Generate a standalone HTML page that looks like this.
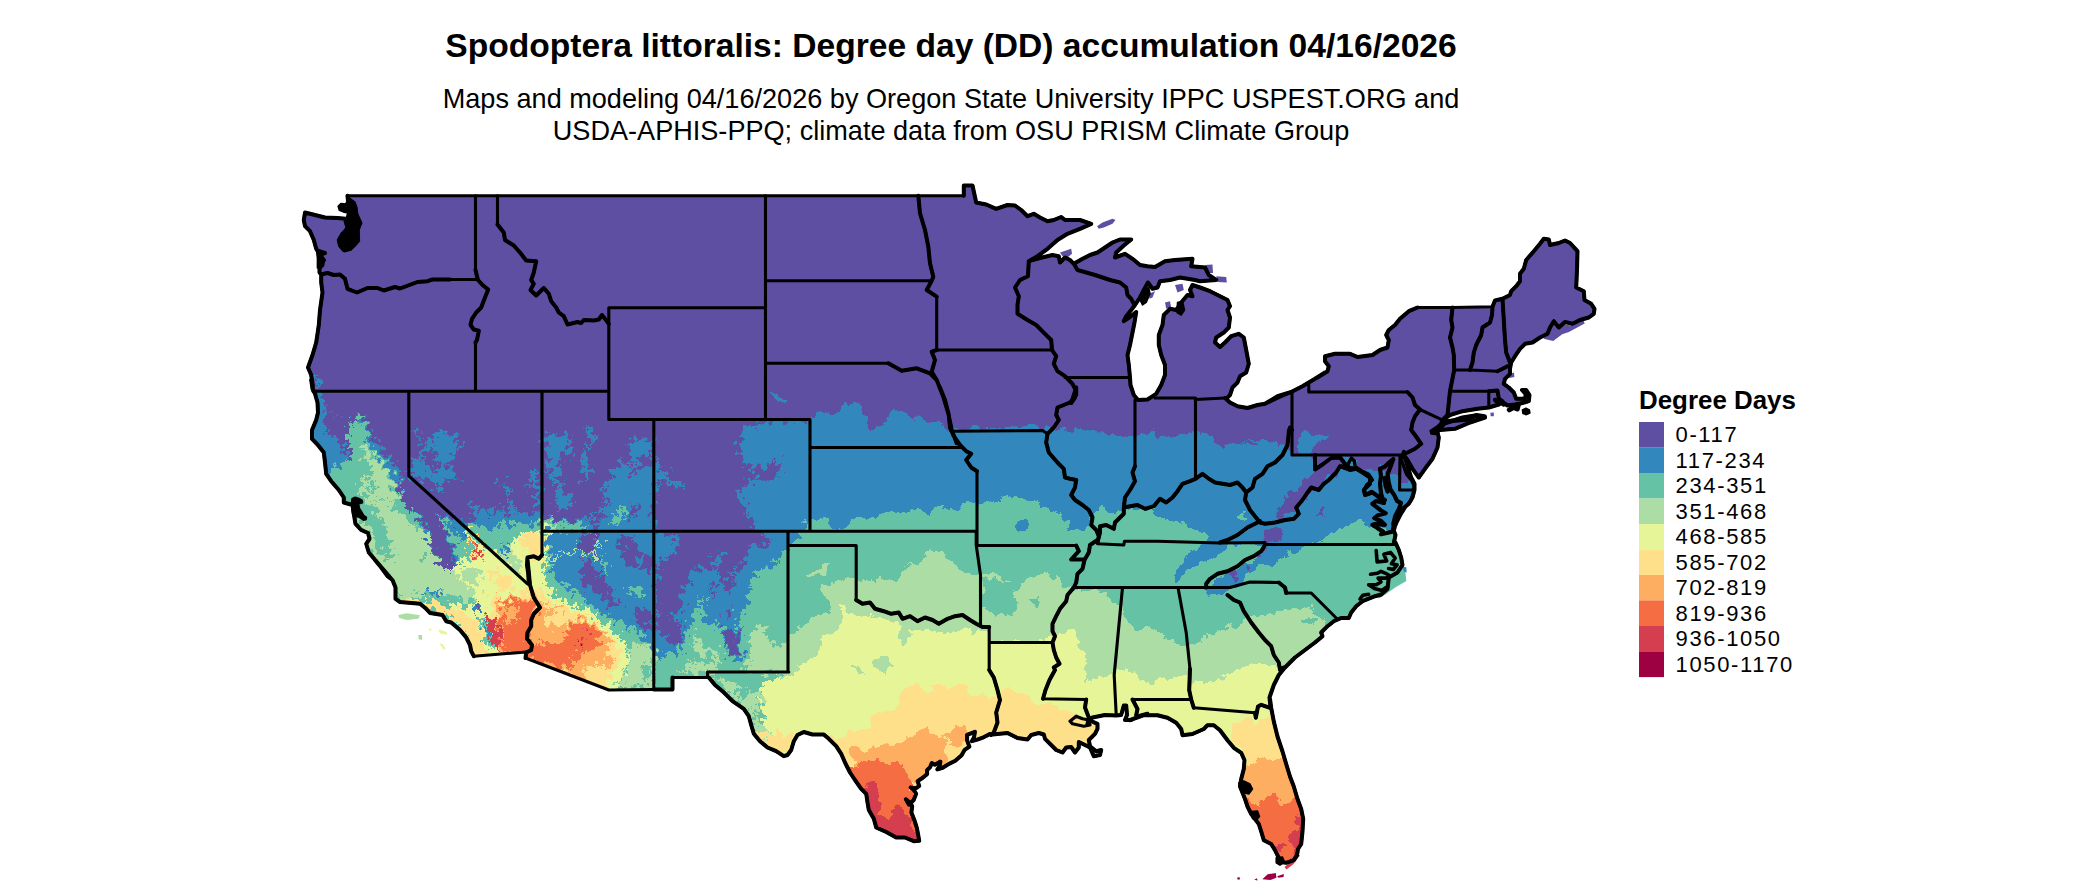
<!DOCTYPE html>
<html><head><meta charset="utf-8"><title>DD map</title>
<style>
html,body{margin:0;padding:0;background:#fff}
body{width:2100px;height:892px;position:relative;overflow:hidden;font-family:"Liberation Sans",sans-serif;color:#000}
.t{position:absolute;white-space:nowrap}
#title{left:0;width:1902px;text-align:center;top:28px;font-size:33.6px;font-weight:bold;line-height:36px}
#sub{left:0;width:1902px;text-align:center;top:83px;font-size:27.1px;line-height:32px}
#lt{left:1639px;top:385px;font-size:25.9px;font-weight:bold;line-height:30px}
.lab{left:1675.5px;font-size:22px;line-height:25.5px;letter-spacing:1.65px}
</style></head><body>
<svg width="2100" height="892" viewBox="0 0 2100 892" style="position:absolute;left:0;top:0">
<defs><clipPath id="us"><path d="M347.5,195.8 L963.8,195.8 L963.8,185.5 L972.5,185.5 L976.2,202.5 L986.2,204.5 L996.2,208.8 L1007.5,205.0 L1015.0,205.5 L1021.2,210.0 L1027.5,216.2 L1033.8,213.8 L1040.0,217.5 L1047.5,221.2 L1053.8,220.0 L1061.2,217.0 L1065.0,220.0 L1080.0,220.0 L1091.2,223.8 L1080.0,228.8 L1067.5,233.8 L1057.5,240.0 L1047.5,248.8 L1037.5,256.2 L1028.8,261.2 L1040.0,258.0 L1052.5,255.0 L1058.8,256.2 L1060.0,262.5 L1065.0,257.5 L1070.0,260.0 L1073.8,263.8 L1082.5,258.8 L1090.0,255.0 L1097.5,252.5 L1105.0,247.5 L1112.5,242.5 L1120.0,239.5 L1131.2,239.5 L1123.8,245.5 L1116.2,252.5 L1115.0,257.5 L1125.0,253.8 L1132.5,258.8 L1140.0,265.0 L1147.5,266.2 L1155.0,267.0 L1165.0,261.2 L1175.0,260.0 L1192.5,258.8 L1191.2,266.2 L1205.0,267.5 L1208.8,275.0 L1216.2,280.0 L1200.0,281.2 L1195.0,280.0 L1187.5,278.8 L1180.0,277.5 L1170.0,280.0 L1160.0,281.2 L1157.5,287.5 L1152.5,288.8 L1148.0,282.5 L1143.8,290.0 L1140.0,297.5 L1135.0,305.0 L1131.2,310.0 L1126.2,316.2 L1123.8,321.2 L1130.0,317.0 L1136.2,312.0 L1134.5,322.5 L1132.5,332.5 L1130.0,345.0 L1127.5,355.0 L1128.8,365.0 L1130.0,377.5 L1130.5,385.0 L1133.8,395.0 L1138.0,400.0 L1147.5,399.5 L1156.2,393.8 L1161.2,385.0 L1165.0,375.0 L1165.0,365.0 L1161.2,355.0 L1158.8,345.0 L1158.8,335.0 L1162.5,325.0 L1163.8,315.0 L1170.0,308.8 L1176.2,310.0 L1181.2,302.5 L1187.5,295.0 L1192.5,296.2 L1190.0,290.0 L1192.5,285.0 L1200.0,287.5 L1210.0,291.2 L1220.0,296.2 L1227.5,300.0 L1230.0,306.2 L1227.5,310.0 L1230.0,317.5 L1228.8,327.5 L1223.8,332.5 L1216.2,337.5 L1215.0,342.5 L1220.0,347.0 L1225.0,342.5 L1231.2,336.2 L1238.8,333.8 L1243.8,337.5 L1246.2,350.0 L1248.8,363.8 L1246.2,372.5 L1240.0,376.2 L1237.5,382.5 L1232.5,387.5 L1230.0,395.0 L1226.2,398.8 L1225.0,398.0 L1230.0,402.5 L1237.5,406.2 L1247.5,408.0 L1257.5,405.0 L1265.0,403.8 L1275.0,398.8 L1282.5,395.0 L1290.0,392.5 L1265.0,403.8 L1277.5,396.2 L1291.2,392.0 L1302.5,386.2 L1315.0,378.8 L1325.0,372.5 L1317.5,377.5 L1327.5,371.2 L1328.8,366.2 L1325.0,361.2 L1325.0,356.2 L1335.0,353.8 L1350.0,353.8 L1357.5,357.0 L1372.5,355.0 L1380.0,350.0 L1387.5,347.5 L1388.8,340.0 L1386.2,335.0 L1388.8,330.0 L1395.0,325.0 L1400.0,318.8 L1408.8,311.2 L1417.5,307.5 L1452.5,307.5 L1492.5,306.8 L1495.0,300.5 L1502.5,298.8 L1510.0,295.0 L1511.2,291.2 L1516.2,286.2 L1520.0,281.2 L1520.0,273.8 L1523.8,268.8 L1526.2,260.0 L1533.8,251.2 L1540.0,243.8 L1543.8,238.8 L1548.8,239.5 L1550.0,245.0 L1558.8,243.0 L1565.0,240.5 L1570.0,243.0 L1577.5,251.2 L1577.0,270.0 L1576.2,287.5 L1583.8,291.2 L1584.5,300.0 L1591.2,303.8 L1594.5,308.8 L1593.8,313.8 L1588.8,317.5 L1580.0,320.0 L1572.5,323.8 L1565.0,322.0 L1558.8,327.5 L1553.8,321.2 L1550.0,327.5 L1547.5,333.8 L1540.0,337.5 L1532.5,342.5 L1525.0,343.8 L1520.0,348.8 L1515.0,356.2 L1511.2,362.5 L1510.0,368.8 L1510.0,373.8 L1505.0,378.8 L1503.8,383.8 L1508.8,387.5 L1513.8,392.5 L1516.2,398.8 L1522.5,398.8 L1525.5,398.0 L1525.5,393.8 L1522.0,390.0 L1526.2,390.0 L1529.5,395.0 L1528.8,401.2 L1522.5,403.0 L1515.0,404.5 L1507.5,405.5 L1502.5,402.0 L1498.8,404.5 L1488.8,407.5 L1477.5,408.8 L1462.5,411.2 L1450.0,415.0 L1442.5,420.0 L1437.5,432.5 L1438.8,437.5 L1437.5,447.5 L1432.5,458.8 L1425.0,468.8 L1418.8,477.5 L1412.5,468.8 L1407.5,460.0 L1403.8,455.0 L1406.2,461.2 L1408.8,470.0 L1411.2,477.5 L1414.5,483.8 L1414.5,490.0 L1412.5,497.5 L1408.8,503.8 L1402.5,508.8 L1396.2,517.5 L1393.0,528.8 L1395.5,535.0 L1393.8,543.0 L1395.5,542.5 L1398.8,550.0 L1401.2,557.5 L1402.5,565.0 L1397.5,572.5 L1388.8,577.5 L1387.5,588.8 L1381.2,594.5 L1375.0,596.2 L1362.5,601.2 L1356.2,606.2 L1351.2,612.5 L1348.8,618.0 L1341.2,618.0 L1333.8,621.2 L1327.5,626.2 L1321.2,632.5 L1322.5,636.2 L1315.0,642.5 L1305.0,650.0 L1295.0,657.5 L1285.0,667.5 L1278.8,675.0 L1273.8,685.0 L1269.5,697.5 L1270.5,707.5 L1270.0,699.0 L1271.2,707.8 L1273.8,721.5 L1277.5,736.5 L1282.5,751.5 L1286.2,764.0 L1290.0,776.5 L1293.8,786.5 L1297.5,799.0 L1301.2,809.0 L1303.2,819.0 L1302.5,831.5 L1301.2,844.0 L1298.0,849.0 L1297.0,855.2 L1293.8,860.2 L1286.2,862.8 L1280.0,862.0 L1278.8,857.8 L1275.0,850.2 L1271.2,844.0 L1263.8,840.2 L1261.2,831.5 L1258.8,824.0 L1251.2,814.0 L1247.5,806.5 L1245.0,799.0 L1240.0,786.5 L1241.2,779.0 L1243.8,769.0 L1244.5,760.2 L1241.2,752.8 L1233.8,747.8 L1227.5,740.2 L1220.0,730.2 L1213.8,725.2 L1207.5,725.2 L1203.8,729.0 L1192.5,734.0 L1182.5,735.2 L1181.2,729.0 L1176.2,722.8 L1167.5,717.8 L1157.5,715.2 L1142.5,715.2 L1130.0,720.2 L1147.5,713.8 L1140.0,715.8 L1131.2,720.0 L1125.0,720.0 L1127.0,715.0 L1126.2,705.5 L1123.8,705.5 L1121.2,715.0 L1116.2,715.5 L1105.0,715.0 L1092.5,717.5 L1088.8,720.0 L1097.5,723.8 L1097.5,728.8 L1095.0,733.8 L1088.8,740.0 L1090.0,746.2 L1096.2,751.2 L1101.2,750.0 L1100.0,755.0 L1093.8,756.2 L1090.0,747.5 L1085.0,745.0 L1078.8,742.0 L1078.8,747.5 L1075.0,752.5 L1071.2,747.0 L1066.2,747.5 L1062.5,752.5 L1056.2,750.0 L1051.2,745.0 L1045.0,738.8 L1043.8,734.5 L1038.8,733.0 L1031.2,735.0 L1027.5,739.5 L1017.5,738.0 L1007.5,733.0 L992.5,734.5 L989.8,734.1 L983.5,737.3 L977.3,739.6 L971.8,741.2 L974.1,737.3 L974.9,731.8 L967.1,734.9 L967.1,740.4 L969.4,746.7 L964.7,749.8 L961.6,755.3 L955.3,760.8 L949.0,763.9 L942.7,767.8 L937.3,769.4 L939.6,766.3 L940.4,761.6 L934.9,764.7 L931.8,763.1 L930.2,767.1 L927.1,770.2 L927.1,774.1 L922.4,778.0 L917.6,781.2 L919.2,785.9 L916.1,788.2 L910.6,787.5 L913.7,789.8 L916.1,793.7 L913.7,800.0 L909.0,804.7 L905.9,799.2 L910.6,803.1 L912.2,806.3 L911.4,812.5 L914.5,820.4 L916.9,828.2 L918.4,836.1 L919.2,840.8 L913.8,841.2 L905.0,837.5 L896.2,837.5 L886.2,832.0 L876.2,827.5 L873.8,818.8 L868.8,810.0 L867.5,802.5 L866.2,793.8 L861.2,788.8 L855.0,780.0 L850.0,772.5 L845.0,762.5 L841.2,753.8 L836.2,746.2 L828.8,738.8 L823.8,734.5 L812.5,734.5 L803.8,732.0 L797.5,735.0 L793.8,741.2 L791.2,750.0 L787.5,755.0 L783.8,756.2 L776.2,751.2 L767.5,747.5 L760.0,741.2 L753.8,733.8 L751.2,725.0 L748.8,716.2 L743.8,708.8 L732.5,701.2 L722.5,691.2 L715.0,685.0 L708.8,677.5 L672.5,677.5 L672.5,689.5 L653.8,689.5 L608.8,690.0 L525.5,658.0 L526.2,652.0 L473.8,656.2 L471.2,651.2 L470.0,645.0 L466.2,637.5 L460.0,630.0 L451.2,622.5 L446.2,621.2 L442.5,615.0 L430.0,613.0 L426.2,608.8 L420.0,603.8 L400.0,602.0 L395.5,598.8 L395.5,587.5 L392.5,580.0 L387.5,576.2 L381.2,567.5 L375.0,560.0 L391.2,578.8 L383.8,570.0 L376.2,561.2 L368.8,552.5 L366.2,543.8 L369.5,538.8 L368.0,533.0 L361.2,530.0 L355.5,523.8 L353.8,513.8 L352.5,505.0 L343.8,502.5 L343.8,497.5 L338.8,490.0 L331.2,481.2 L326.2,473.8 L325.0,462.5 L323.8,452.5 L317.5,444.5 L312.0,438.8 L312.0,430.0 L316.2,420.0 L318.0,412.5 L317.5,402.5 L315.0,393.8 L312.5,388.8 L311.2,380.0 L313.0,387.5 L311.2,375.0 L308.0,367.5 L312.5,355.0 L316.2,342.5 L318.8,325.0 L320.0,310.0 L322.5,292.5 L321.2,282.5 L321.2,274.5 L319.5,272.5 L319.5,263.8 L323.8,260.5 L319.5,260.0 L318.8,255.0 L325.0,253.0 L318.8,253.0 L316.2,248.8 L313.8,240.0 L310.0,231.2 L305.0,226.2 L303.8,220.0 L305.0,212.5 L315.0,215.0 L325.0,217.5 L337.5,218.0 L345.5,218.8 L346.2,223.8 L348.8,228.8 L342.5,233.8 L338.8,240.0 L340.0,245.5 L343.8,250.0 L348.8,248.8 L353.8,245.0 L357.5,240.0 L357.5,230.0 L360.0,222.5 L355.5,215.0 L355.5,207.5 L353.8,203.0 L348.0,201.2 L347.5,195.8Z"/></clipPath></defs>
<defs><filter id="rag" filterUnits="userSpaceOnUse" x="250" y="150" width="1420" height="760" color-interpolation-filters="sRGB"><feTurbulence type="fractalNoise" baseFrequency="0.09" numOctaves="3" seed="7" result="n"/><feDisplacementMap in="SourceGraphic" in2="n" scale="14" xChannelSelector="R" yChannelSelector="G"/></filter>
<filter id="rag2" filterUnits="userSpaceOnUse" x="250" y="150" width="600" height="760" color-interpolation-filters="sRGB"><feTurbulence type="fractalNoise" baseFrequency="0.16" numOctaves="4" seed="11" result="n"/><feDisplacementMap in="SourceGraphic" in2="n" scale="22" xChannelSelector="R" yChannelSelector="G"/></filter>
<clipPath id="cw"><path d="M250,150 L765.5,150 L765.5,419.5 L810,419.5 L810,531.2 L788,531.2 L788,900 L250,900Z"/></clipPath><clipPath id="ce"><path d="M765.5,150 L1700,150 L1700,900 L788,900 L788,531.2 L810,531.2 L810,419.5 L765.5,419.5Z"/></clipPath>
<g id="bands" shape-rendering="crispEdges">
<rect x="200" y="100" width="1540" height="900" fill="#5E4FA2"/>
<path d="M311.2,385.0 L320.0,395.0 L327.5,407.5 L333.8,415.0 L343.8,422.5 L350.0,417.5 L365.0,417.5 L370.0,430.0 L376.2,442.5 L385.0,455.0 L393.8,462.5 L398.8,475.0 L403.8,487.5 L410.0,496.2 L408.8,480.0 L412.5,462.5 L420.0,442.5 L430.0,455.0 L437.5,440.0 L447.5,430.0 L452.5,445.0 L462.5,442.5 L455.0,455.0 L450.0,467.5 L452.5,480.0 L462.5,487.5 L470.0,497.5 L480.0,505.0 L490.0,495.0 L497.5,487.5 L505.0,480.0 L510.0,490.0 L515.0,495.0 L522.5,490.0 L530.0,480.0 L533.8,465.0 L540.0,485.0 L542.0,515.0 L555.0,520.0 L570.0,522.5 L585.0,520.0 L597.5,510.0 L605.0,500.0 L602.5,487.5 L610.0,480.0 L617.5,465.0 L625.0,462.5 L635.0,475.0 L640.0,472.5 L630.0,457.5 L637.5,450.0 L645.0,440.0 L651.2,437.5 L655.0,465.0 L665.0,472.5 L675.0,482.5 L685.0,480.0 L680.0,487.5 L670.0,485.0 L660.0,477.5 L657.5,490.0 L660.0,505.0 L667.5,517.5 L680.0,530.0 L690.0,533.8 L712.5,532.5 L737.5,533.8 L755.0,530.0 L753.8,527.5 L750.0,517.5 L745.0,510.0 L742.5,500.0 L735.0,490.0 L747.5,486.2 L747.5,477.5 L755.0,478.8 L765.0,480.0 L775.0,475.0 L781.2,470.0 L777.5,460.0 L770.0,465.0 L758.8,470.0 L755.0,466.2 L745.0,467.5 L740.0,455.0 L738.0,442.5 L741.2,428.8 L755.0,426.2 L772.5,422.5 L790.0,421.2 L805.0,420.5 L812.5,413.8 L820.0,412.5 L830.0,415.0 L840.0,410.0 L843.8,403.8 L852.5,402.5 L860.0,406.2 L865.0,415.0 L872.5,427.5 L880.0,428.8 L890.0,420.0 L892.5,413.8 L900.0,411.2 L908.8,417.5 L915.0,418.8 L935.0,422.5 L946.2,425.0 L947.5,435.0 L940.0,420.0 L947.5,428.8 L951.2,430.0 L965.0,428.8 L985.0,427.5 L1012.5,426.2 L1025.0,424.5 L1040.0,427.5 L1050.0,428.8 L1057.5,432.0 L1070.0,431.2 L1087.5,428.8 L1100.0,432.5 L1115.0,437.5 L1130.0,438.8 L1140.0,436.2 L1152.5,431.2 L1165.0,438.8 L1180.0,436.2 L1195.0,431.2 L1205.0,433.8 L1215.0,442.5 L1223.8,448.8 L1232.5,442.5 L1247.5,441.2 L1262.5,438.8 L1277.5,445.0 L1240.0,441.2 L1250.0,447.5 L1262.5,442.5 L1275.0,442.5 L1285.0,445.0 L1288.8,452.5 L1296.2,452.5 L1298.8,437.5 L1305.0,432.5 L1315.0,435.0 L1325.0,436.2 L1320.0,442.5 L1312.5,450.0 L1308.8,456.2 L1353.8,456.2 L1357.5,467.5 L1365.0,472.5 L1375.0,470.0 L1382.5,468.8 L1390.0,472.5 L1395.0,477.5 L1402.5,480.0 L1412.5,482.5 L1420.0,486.2 L1700.0,486.0 L1700.0,900.0 L250.0,900.0 L250.0,385.0Z" fill="#3288BD"/>
<path d="M365.0,417.5 L370.0,430.0 L376.2,442.5 L385.0,455.0 L393.8,462.5 L398.8,475.0 L403.8,487.5 L411.2,497.5 L420.0,505.0 L426.2,517.5 L432.5,530.0 L437.5,540.0 L440.0,555.0 L443.8,565.0 L448.8,571.2 L453.8,566.2 L452.5,552.5 L447.5,540.0 L443.0,527.5 L440.0,516.2 L433.8,505.0 L426.2,495.0 L417.5,485.0 L409.5,476.2 L408.5,417.5Z" fill="#5E4FA2"/>
<path d="M480.0,505.0 L487.5,515.0 L492.5,505.0 L497.5,497.5 L502.5,490.0 L497.5,487.5 L490.0,495.0Z" fill="#5E4FA2"/>
<path d="M510.0,490.0 L512.5,505.0 L517.5,512.5 L522.5,505.0 L525.0,492.5 L522.5,490.0 L515.0,495.0Z" fill="#5E4FA2"/>
<path d="M597.5,510.0 L590.0,525.0 L582.5,535.0 L585.0,550.0 L592.5,560.0 L597.5,555.0 L595.0,542.5 L600.0,530.0 L607.5,522.5 L615.0,530.0 L622.5,525.0 L620.0,515.0 L612.5,505.0 L605.0,500.0Z" fill="#5E4FA2"/>
<path d="M617.5,540.0 L625.0,535.0 L635.0,540.0 L640.0,552.5 L635.0,562.5 L625.0,560.0 L620.0,552.5Z" fill="#5E4FA2"/>
<path d="M657.5,490.0 L660.0,505.0 L667.5,517.5 L680.0,530.0 L690.0,533.8 L712.5,532.5 L737.5,533.8 L755.0,530.0 L765.0,536.2 L770.0,542.5 L762.5,546.2 L757.5,540.0 L747.5,545.0 L747.5,557.5 L742.5,565.0 L737.5,572.5 L730.0,570.0 L727.5,577.5 L732.5,585.0 L730.0,592.5 L725.0,590.0 L722.5,580.0 L717.5,572.5 L720.0,562.5 L722.5,551.2 L712.5,552.5 L710.0,562.5 L702.5,567.5 L692.5,570.0 L690.0,580.0 L695.0,582.5 L680.0,585.0 L677.5,595.0 L671.2,600.0 L680.0,607.5 L670.0,612.5 L662.5,607.5 L660.0,600.0 L657.5,590.0 L662.5,580.0 L657.5,572.5 L662.5,562.5 L675.0,550.0 L680.0,537.5 L667.5,535.0 L657.5,530.0 L655.0,520.0 L645.0,515.0 L635.0,510.0 L630.0,507.5 L630.0,495.0 L640.0,492.5 L650.0,487.5Z" fill="#5E4FA2"/>
<path d="M680.0,533.8 L755.0,533.8 L765.0,537.5 L770.0,542.5 L762.5,546.2 L755.0,542.5 L747.5,547.5 L745.0,560.0 L737.5,565.0 L730.0,572.5 L722.5,570.0 L723.8,555.0 L717.5,551.2 L712.5,553.8 L715.0,565.0 L710.0,571.2 L700.0,567.5 L692.5,571.2 L690.0,577.5 L680.0,582.5 L681.2,597.5 L685.0,605.0 L680.0,612.5 L670.0,617.5 L680.0,622.5 L682.5,635.0 L677.5,647.5 L670.0,645.0 L666.2,637.5 L660.0,635.0 L656.2,625.0 L656.2,585.0 L660.0,572.5 L657.5,557.5 L667.5,560.0 L676.2,557.5 L677.5,545.0Z" fill="#5E4FA2"/>
<path d="M725.0,577.5 L732.5,575.0 L735.0,585.0 L730.0,592.5 L726.2,587.5Z" fill="#5E4FA2"/>
<path d="M710.0,582.5 L715.0,580.0 L716.2,595.0 L712.5,600.0Z" fill="#5E4FA2"/>
<path d="M723.8,607.5 L731.2,607.5 L731.2,612.5 L725.0,613.8Z" fill="#5E4FA2"/>
<path d="M578.8,537.5 L587.5,537.5 L590.0,550.0 L583.8,552.5 L578.8,545.0Z" fill="#5E4FA2"/>
<path d="M617.5,535.0 L625.0,537.5 L630.0,547.5 L640.0,552.5 L635.0,565.0 L630.0,567.5 L628.8,557.5 L622.5,555.0 L618.8,545.0Z" fill="#5E4FA2"/>
<path d="M642.5,557.5 L652.5,555.0 L652.5,577.5 L645.0,575.0 L641.2,567.5Z" fill="#5E4FA2"/>
<path d="M583.8,560.0 L592.5,565.0 L600.0,575.0 L605.0,585.0 L615.0,597.5 L622.5,602.5 L617.5,607.5 L607.5,605.0 L600.0,597.5 L592.5,590.0 L585.0,585.0 L581.2,577.5 L583.8,567.5Z" fill="#5E4FA2"/>
<path d="M635.0,607.5 L645.0,610.0 L652.5,612.5 L652.5,627.5 L645.0,630.0 L637.5,622.5 L632.5,615.0Z" fill="#5E4FA2"/>
<path d="M1312.5,456.2 L1345.0,456.2 L1346.2,465.0 L1337.5,471.2 L1327.5,480.0 L1317.5,488.8 L1308.8,496.2 L1298.8,503.8 L1290.0,511.2 L1282.5,518.0 L1277.5,516.2 L1282.5,506.2 L1288.8,496.2 L1298.8,487.5 L1307.5,480.0 L1313.8,470.0Z" fill="#5E4FA2"/>
<path d="M1323.8,503.8 L1327.5,506.2 L1320.0,516.2 L1315.0,517.5 L1317.5,510.0Z" fill="#5E4FA2"/>
<path d="M1282.5,506.2 L1290.0,501.2 L1300.0,500.0 L1297.5,507.5 L1290.0,515.0 L1280.0,516.2 L1276.2,512.5Z" fill="#5E4FA2"/>
<path d="M1262.5,532.5 L1272.5,527.5 L1282.5,527.5 L1280.0,536.2 L1272.5,541.2 L1265.0,551.2 L1258.8,560.0 L1257.0,556.2 L1261.2,546.2 L1265.0,540.0Z" fill="#5E4FA2"/>
<path d="M1248.8,563.8 L1253.8,566.2 L1250.0,571.2 L1246.2,568.8Z" fill="#5E4FA2"/>
<path d="M1232.5,572.5 L1238.8,573.8 L1236.2,580.0 L1231.2,577.5Z" fill="#5E4FA2"/>
<path d="M412.5,430.0 L418.8,433.8 L423.8,445.0 L430.0,440.0 L436.2,438.8 L443.8,430.0 L448.8,428.8 L452.5,436.2 L455.0,443.8 L463.8,441.2 L456.2,453.8 L450.0,466.2 L452.5,478.8 L445.0,482.5 L435.0,480.0 L430.0,470.0 L420.0,465.0 L413.8,467.5 L417.5,455.0 L421.2,447.5 L415.0,442.5Z" fill="#3288BD"/>
<path d="M545.0,437.5 L555.0,433.8 L565.0,433.8 L572.5,445.0 L570.0,455.0 L582.5,453.8 L588.8,462.5 L590.0,475.0 L582.5,485.0 L572.5,482.5 L567.5,490.0 L572.5,502.5 L565.0,510.0 L555.0,505.0 L550.0,497.5 L552.5,485.0 L545.0,480.0 L550.0,467.5 L546.2,455.0Z" fill="#3288BD"/>
<path d="M586.2,426.2 L591.2,428.8 L596.2,442.5 L590.0,450.0 L587.5,440.0Z" fill="#3288BD"/>
<path d="M630.0,437.5 L640.0,437.5 L651.2,440.0 L651.2,450.0 L640.0,453.8 L630.0,457.5Z" fill="#3288BD"/>
<path d="M313.8,375.0 L320.0,376.2 L319.5,388.8 L315.0,388.8Z" fill="#3288BD"/>
<path d="M770.0,392.5 L780.0,395.0 L787.5,402.5 L782.5,405.0 L775.0,401.2Z" fill="#3288BD"/>
<path d="M327.5,473.8 L332.5,470.0 L343.8,465.0 L347.5,455.0 L343.8,442.5 L345.0,430.0 L350.0,420.0 L360.0,417.5 L365.0,425.0 L367.5,440.0 L375.0,452.5 L385.0,462.5 L392.5,475.0 L400.0,490.0 L407.5,505.0 L417.5,520.0 L425.0,535.0 L432.5,550.0 L437.5,565.0 L445.0,577.5 L455.0,580.0 L462.5,570.0 L457.5,560.0 L452.5,545.0 L445.0,530.0 L440.0,516.2 L443.8,520.0 L452.5,530.0 L462.5,542.5 L465.0,527.5 L470.0,522.5 L480.0,525.0 L490.0,530.0 L502.5,525.0 L515.0,522.5 L530.0,525.0 L542.0,522.5 L547.5,530.0 L545.0,537.5 L550.0,550.0 L547.5,560.0 L552.5,572.5 L560.0,582.5 L567.5,587.5 L575.0,595.0 L585.0,600.0 L595.0,607.5 L605.0,615.0 L615.0,620.0 L627.5,625.0 L637.5,632.5 L647.5,640.0 L653.8,643.8 L656.2,660.0 L665.0,660.0 L666.2,652.5 L680.0,652.5 L682.5,647.5 L685.0,635.0 L690.0,625.0 L695.0,612.5 L700.0,602.5 L702.5,595.0 L705.0,595.0 L702.5,610.0 L705.0,620.0 L712.5,625.0 L717.5,622.5 L722.5,630.0 L725.0,650.0 L730.0,657.5 L741.2,660.0 L742.5,650.0 L740.0,640.0 L738.8,625.0 L737.5,615.0 L742.5,610.0 L747.5,605.0 L747.5,590.0 L750.0,582.5 L755.0,575.0 L760.0,570.0 L767.5,567.5 L775.0,560.0 L782.5,560.0 L788.0,550.0 L788.0,545.0 L796.2,543.8 L797.5,532.5 L805.0,529.5 L810.0,517.5 L817.5,516.2 L825.0,521.2 L832.5,529.5 L845.0,529.5 L847.5,525.0 L855.0,517.5 L867.5,516.2 L877.5,513.8 L887.5,512.5 L895.0,515.0 L905.0,515.0 L912.5,508.8 L922.5,510.0 L930.0,511.2 L937.5,507.5 L945.0,510.0 L952.5,508.8 L960.0,510.0 L967.5,502.5 L976.2,500.0 L977.0,505.0 L985.0,503.8 L997.5,500.0 L1007.5,497.5 L1017.5,496.2 L1027.5,498.8 L1037.5,502.5 L1045.0,507.5 L1052.5,510.0 L1062.5,516.2 L1070.0,522.5 L1067.5,532.5 L1077.5,527.5 L1087.5,525.0 L1092.5,520.0 L1095.0,512.5 L1102.5,503.8 L1107.5,505.0 L1110.0,512.5 L1115.0,516.2 L1120.0,512.5 L1125.0,510.0 L1137.5,508.8 L1152.5,508.8 L1157.5,515.0 L1165.0,520.0 L1175.0,520.0 L1185.0,525.0 L1195.0,530.0 L1205.0,532.5 L1212.5,537.5 L1212.3,541.0 L1200.0,546.7 L1190.0,551.7 L1183.3,560.0 L1176.7,571.7 L1171.7,581.7 L1174.3,582.7 L1180.0,578.3 L1188.3,571.7 L1196.7,565.0 L1206.7,558.3 L1216.7,555.0 L1226.7,550.0 L1230.7,543.3 L1268.3,544.0 L1260.0,553.3 L1250.0,560.0 L1240.0,566.7 L1230.0,573.3 L1220.0,578.3 L1210.0,585.0 L1203.3,591.7 L1210.0,596.7 L1223.3,593.3 L1230.0,588.3 L1240.0,583.3 L1250.0,573.3 L1260.0,566.7 L1270.0,563.3 L1280.0,560.0 L1290.0,553.3 L1300.0,550.0 L1310.0,543.3 L1323.3,540.0 L1333.3,535.0 L1343.3,530.0 L1322.5,542.5 L1330.0,535.0 L1340.0,527.5 L1350.0,525.0 L1360.0,520.0 L1370.0,525.0 L1380.0,530.0 L1390.0,532.5 L1400.0,530.0 L1700.0,530.0 L1700.0,900.0 L250.0,900.0 L250.0,470.0Z" fill="#66C2A5"/>
<path d="M722.5,622.5 L730.0,620.0 L738.8,630.0 L741.2,650.0 L736.2,658.8 L727.5,656.2 L723.8,642.5Z" fill="#3288BD"/>
<path d="M725.0,630.0 L730.0,627.5 L737.5,635.0 L738.8,650.0 L733.8,655.0 L727.5,652.5 L726.2,642.5Z" fill="#5E4FA2"/>
<path d="M1237.5,513.8 L1243.8,511.2 L1248.8,516.2 L1242.5,520.0Z" fill="#66C2A5"/>
<path d="M1013.8,526.2 L1020.0,521.2 L1027.5,517.5 L1031.2,525.0 L1026.2,530.0 L1017.5,530.0Z" fill="#3288BD"/>
<path d="M1288.3,495.0 L1298.3,488.3 L1306.7,480.0 L1313.3,483.3 L1303.3,496.7 L1293.3,503.3 L1283.3,508.3Z" fill="#5E4FA2"/>
<path d="M1268.3,530.0 L1276.7,526.7 L1283.3,531.7 L1276.7,540.0 L1270.0,541.7 L1263.3,538.3Z" fill="#5E4FA2"/>
<path d="M762.5,735.0 L757.5,720.0 L761.2,700.0 L762.5,685.0 L767.5,680.0 L782.5,677.5 L788.8,635.0 L800.0,630.0 L810.0,620.0 L820.0,616.2 L830.0,613.8 L832.5,607.5 L825.0,597.5 L818.8,590.0 L822.5,585.0 L835.0,582.5 L845.0,577.5 L855.0,577.5 L860.0,582.5 L870.0,580.0 L877.5,577.5 L885.0,578.8 L900.0,577.5 L907.5,570.0 L912.5,562.5 L902.5,567.5 L912.5,561.2 L925.0,560.0 L930.0,547.5 L940.0,550.0 L950.0,560.0 L957.5,565.0 L965.0,570.0 L972.5,572.5 L978.8,573.8 L982.5,577.5 L990.0,573.8 L1000.0,576.2 L1010.0,582.5 L1015.0,592.5 L1020.0,585.0 L1030.0,578.8 L1040.0,573.8 L1047.5,571.2 L1052.5,576.2 L1060.0,582.5 L1067.5,588.8 L1073.8,588.8 L1090.0,590.0 L1105.0,591.2 L1107.5,597.5 L1115.0,602.5 L1122.5,607.5 L1125.0,620.0 L1130.0,625.0 L1140.0,627.5 L1147.5,630.0 L1155.0,627.5 L1165.0,637.5 L1172.5,642.5 L1180.0,645.0 L1190.0,645.0 L1190.0,645.0 L1200.0,642.5 L1210.0,635.0 L1222.5,630.0 L1232.5,625.0 L1242.5,620.0 L1252.5,617.5 L1262.5,617.5 L1272.5,612.5 L1285.0,610.0 L1297.5,608.8 L1307.5,607.5 L1315.0,612.5 L1320.0,617.5 L1325.0,625.0 L1330.0,630.0 L1700.0,640.0 L1700.0,900.0 L250.0,900.0 L250.0,700.0Z" fill="#ABDDA4"/>
<path d="M750.0,640.0 L760.0,622.5 L765.0,632.5 L777.5,647.5 L788.0,640.0 L788.0,672.0 L742.5,672.0 L747.5,660.0 L750.0,650.0Z" fill="#ABDDA4"/>
<path d="M695.0,632.5 L692.5,642.5 L697.5,652.5 L705.0,657.5 L715.0,655.0 L717.5,660.0 L710.0,665.0 L702.5,662.5 L690.0,662.5 L682.5,667.5 L682.5,672.5 L705.0,672.5 L710.0,675.0 L720.0,665.0 L722.5,657.5 L715.0,650.0 L705.0,647.5 L700.0,640.0Z" fill="#ABDDA4"/>
<path d="M710.0,673.8 L725.0,680.0 L737.5,685.0 L750.0,690.0 L761.2,690.0 L762.5,735.0 L757.5,740.0 L750.0,720.0 L737.5,702.5 L725.0,690.0 L715.0,680.0Z" fill="#ABDDA4"/>
<path d="M753.8,707.5 L762.5,705.0 L770.0,712.5 L772.5,722.5 L762.5,725.0 L755.0,717.5Z" fill="#66C2A5"/>
<path d="M737.5,685.0 L746.2,685.0 L746.2,700.0 L740.0,702.5Z" fill="#66C2A5"/>
<path d="M805.0,572.5 L815.0,571.2 L825.0,565.0 L830.0,566.2 L825.0,572.5 L815.0,577.5 L807.5,576.2Z" fill="#ABDDA4"/>
<path d="M983.8,580.0 L995.0,576.2 L1005.0,580.0 L1012.5,587.5 L1015.0,595.0 L1020.0,602.5 L1015.0,615.0 L1010.0,618.8 L1002.5,612.5 L995.0,616.2 L987.5,610.0 L982.5,605.0Z" fill="#66C2A5"/>
<path d="M1030.0,597.5 L1037.5,598.8 L1040.0,606.2 L1032.5,607.5Z" fill="#66C2A5"/>
<path d="M1302.5,617.5 L1312.5,615.5 L1318.0,621.2 L1312.5,626.2 L1303.8,624.5Z" fill="#66C2A5"/>
<path d="M1202.5,620.0 L1208.8,619.5 L1211.2,626.2 L1205.0,630.0 L1201.2,625.0Z" fill="#66C2A5"/>
<path d="M775.0,745.0 L762.5,720.0 L761.2,700.0 L762.5,685.0 L767.5,680.0 L782.5,677.5 L795.0,672.5 L800.0,665.0 L807.5,660.0 L817.5,657.5 L820.0,647.5 L825.0,637.5 L835.0,632.5 L840.0,627.5 L842.5,617.5 L840.0,610.0 L836.2,605.0 L840.0,602.5 L847.5,610.0 L855.0,613.8 L865.0,615.0 L875.0,617.5 L887.5,620.0 L897.5,622.5 L900.0,630.0 L907.5,628.8 L915.0,627.5 L925.0,630.0 L935.0,632.5 L945.0,633.8 L955.0,630.0 L965.0,630.0 L975.0,631.2 L985.0,631.2 L990.0,632.5 L991.2,641.2 L992.5,637.5 L1015.0,641.2 L1032.5,639.5 L1052.5,637.5 L1060.0,635.0 L1070.0,631.2 L1076.2,632.5 L1078.8,645.0 L1083.8,652.5 L1086.2,665.0 L1083.8,675.0 L1086.2,680.0 L1100.0,676.2 L1112.5,676.2 L1115.0,670.0 L1127.5,670.0 L1137.5,675.0 L1147.5,682.5 L1162.5,680.0 L1175.0,676.2 L1190.0,673.8 L1190.0,686.2 L1205.0,680.0 L1220.0,678.8 L1235.0,675.0 L1245.0,666.2 L1255.0,662.5 L1272.5,665.0 L1282.5,668.8 L1700.0,670.0 L1700.0,900.0 L250.0,900.0 L250.0,760.0Z" fill="#E6F598"/>
<path d="M897.5,630.0 L907.5,628.8 L912.5,635.0 L905.0,645.0 L898.8,640.0Z" fill="#ABDDA4"/>
<path d="M850.0,666.2 L860.0,665.0 L865.0,673.8 L860.0,671.2 L852.5,670.0Z" fill="#ABDDA4"/>
<path d="M872.5,665.0 L880.0,660.0 L887.5,655.0 L893.8,662.5 L887.5,667.5 L882.5,673.8 L875.0,668.8Z" fill="#ABDDA4"/>
<path d="M825.0,740.0 L830.0,735.0 L835.0,740.0 L842.5,735.0 L850.0,730.0 L860.0,732.5 L870.0,725.0 L875.0,715.0 L880.0,710.0 L890.0,712.5 L897.5,707.5 L900.0,695.0 L905.0,687.5 L912.5,682.5 L920.0,687.5 L930.0,690.0 L940.0,685.0 L950.0,687.5 L957.5,682.5 L965.0,685.0 L975.0,692.5 L985.0,695.0 L995.0,697.5 L1000.0,692.5 L1000.0,691.2 L1007.5,686.2 L1015.0,692.5 L1025.0,697.5 L1035.0,702.5 L1045.0,702.5 L1055.0,705.0 L1065.0,710.0 L1075.0,712.5 L1083.8,717.5 L1090.0,722.5 L1100.0,725.0 L1105.0,726.2 L1105.0,745.0 L1115.0,765.0 L1100.0,900.0 L700.0,900.0Z" fill="#FEE08B"/>
<path d="M753.8,732.5 L762.5,735.0 L772.5,735.0 L782.5,732.5 L790.0,735.0 L795.0,732.5 L787.5,752.5 L782.5,757.5 L770.0,747.5 L757.5,740.0Z" fill="#FEE08B"/>
<path d="M1228.8,741.5 L1231.2,734.0 L1235.0,721.5 L1242.5,717.8 L1255.0,724.0 L1265.0,716.5 L1272.5,712.8 L1305.0,712.8 L1317.5,894.0 L1270.0,894.0 L1240.0,794.0 L1247.5,756.5Z" fill="#FEE08B"/>
<path d="M847.5,750.0 L855.0,747.5 L865.0,750.0 L875.0,747.5 L885.0,745.0 L895.0,742.5 L905.0,740.0 L915.0,735.0 L920.0,727.5 L925.0,727.5 L930.0,732.5 L937.5,737.5 L946.2,735.0 L950.0,727.5 L957.5,722.5 L965.0,725.0 L970.0,732.5 L968.8,740.0 L960.0,750.0 L950.0,760.0 L937.5,772.5 L925.0,783.0 L860.0,783.0Z" fill="#FDAE61"/>
<path d="M1242.5,769.0 L1246.2,765.2 L1252.5,762.8 L1257.5,755.2 L1267.5,759.0 L1275.0,761.5 L1282.5,760.2 L1286.2,764.0 L1292.5,764.0 L1310.0,819.0 L1305.0,894.0 L1270.0,894.0 L1237.5,789.0Z" fill="#FDAE61"/>
<path d="M850.0,772.5 L855.0,767.5 L860.0,762.5 L870.0,762.5 L875.0,757.5 L880.0,762.5 L890.0,763.8 L897.5,760.0 L902.5,765.0 L905.0,772.5 L902.5,767.5 L905.0,775.0 L910.0,780.0 L911.2,787.5 L915.0,795.0 L922.5,840.0 L890.0,847.5 L860.0,790.0Z" fill="#F46D43"/>
<path d="M1243.8,794.0 L1247.5,799.0 L1252.5,804.0 L1260.0,805.2 L1266.2,797.8 L1275.0,796.5 L1285.0,805.2 L1292.5,801.5 L1297.5,794.0 L1310.0,819.0 L1305.0,869.0 L1275.0,869.0 L1255.0,824.0Z" fill="#F46D43"/>
<path d="M861.2,790.0 L863.8,790.0 L870.0,783.8 L877.5,786.2 L881.2,792.5 L877.5,800.0 L881.2,812.5 L886.2,820.0 L892.5,810.0 L897.5,803.8 L902.5,807.5 L906.2,815.0 L911.2,820.0 L915.0,830.0 L922.5,840.0 L915.0,847.5 L890.0,840.0 L872.5,825.0 L865.0,805.0Z" fill="#D53E4F"/>
<path d="M1300.7,815.8 L1297.3,823.2 L1296.6,829.2 L1291.9,833.3 L1289.2,838.6 L1291.9,844.0 L1294.6,849.4 L1293.3,856.1 L1286.5,860.2 L1289.2,864.2 L1297.3,858.8 L1302.7,845.4 L1304.0,823.8Z" fill="#D53E4F"/>
<path d="M1275.1,845.4 L1281.1,843.8 L1286.5,845.4 L1283.8,849.4 L1279.8,852.4 L1276.4,850.8Z" fill="#D53E4F"/>
<path d="M320.8,395.1 L325.3,409.7 L323.0,423.1 L328.6,432.1 L339.8,441.0 L346.5,452.2 L348.8,461.2 L352.1,452.2 L348.8,441.0 L345.4,432.1 L348.8,423.1 L353.3,418.6 L339.8,418.6 L330.9,413.0 L325.3,405.2Z" fill="#5E4FA2"/>
<path d="M400.0,480.0 L411.4,480.0 L434.3,518.1 L443.9,537.2 L451.5,556.3 L453.4,569.6 L447.7,579.2 L442.0,575.3 L438.1,563.9 L434.3,548.6 L428.6,533.4 L419.1,518.1 L409.5,508.6 L400.0,499.1Z" fill="#5E4FA2"/>
<path d="M410.4,475.8 L440.7,516.1 L451.9,519.5 L465.3,528.4 L460.8,517.2 L451.9,510.5 L438.4,501.5 L427.2,492.6 L418.3,483.6Z" fill="#5E4FA2"/>
<path d="M364.5,446.6 L370.1,450.0 L373.4,459.0 L377.9,463.4 L373.4,466.8 L366.7,461.2 L363.4,452.2Z" fill="#ABDDA4"/>
<path d="M371.2,474.6 L380.2,473.5 L384.6,481.4 L382.4,489.2 L375.7,491.5 L371.2,483.6Z" fill="#ABDDA4"/>
<path d="M357.8,474.6 L364.5,479.1 L369.0,490.3 L364.5,494.8 L360.0,485.9Z" fill="#ABDDA4"/>
<path d="M369.0,503.8 L380.2,500.4 L391.4,503.8 L400.3,515.0 L407.1,519.5 L416.0,528.4 L425.0,532.9 L431.7,541.9 L434.0,555.3 L436.2,571.0 L438.4,582.2 L440.0,570.0 L442.5,580.0 L440.0,587.5 L430.0,595.0 L420.0,592.5 L407.5,580.0 L397.5,565.0 L392.5,550.0 L387.5,535.0 L382.5,520.0Z" fill="#ABDDA4"/>
<path d="M420.5,554.2 L427.2,555.3 L428.3,562.1 L422.7,564.3 L419.4,559.8Z" fill="#66C2A5"/>
<path d="M357.5,516.2 L365.0,520.0 L372.5,535.0 L382.5,552.5 L392.5,567.5 L402.5,580.0 L407.5,592.5 L415.0,603.0 L400.0,603.0 L396.2,587.5 L391.2,578.8 L383.8,570.0 L376.2,561.2 L368.8,552.5 L366.2,543.8 L369.5,538.8 L368.0,533.0 L361.2,530.0Z" fill="#ABDDA4"/>
<path d="M365.0,560.0 L435.0,560.0 L445.0,570.0 L457.5,567.5 L470.0,572.5 L480.0,570.0 L490.0,575.0 L495.0,585.0 L490.0,592.5 L480.0,590.0 L470.0,595.0 L457.5,592.5 L445.0,587.5 L435.0,585.0 L415.0,587.5 L405.0,580.0 L395.0,587.5 L396.2,597.5 L385.0,580.0Z" fill="#ABDDA4"/>
<path d="M445.7,606.2 L455.2,604.3 L464.8,606.2 L472.4,604.3 L478.1,598.6 L474.3,591.0 L478.1,585.3 L487.6,583.4 L497.2,577.6 L493.4,570.0 L483.8,565.3 L476.2,558.6 L472.4,549.1 L466.7,537.6 L462.9,530.0 L468.6,530.0 L497.2,556.7 L506.7,552.9 L512.4,541.4 L520.0,533.8 L529.6,531.9 L541.0,531.9 L545.8,534.8 L544.8,549.1 L543.8,568.1 L544.8,581.4 L550.5,591.0 L558.1,598.6 L567.7,602.4 L579.1,606.2 L588.6,610.0 L594.3,617.7 L602.0,623.4 L609.6,627.2 L615.3,632.9 L621.0,638.6 L626.7,648.1 L628.6,659.6 L624.8,671.0 L619.1,682.4 L615.3,693.9 L516.2,663.4 L468.6,663.4 L470.5,648.1 L466.7,636.7 L459.1,625.3 L449.5,619.6 L440.0,613.8 L440.0,606.2Z" fill="#E6F598"/>
<path d="M447.6,592.9 L459.1,591.0 L470.5,592.9 L478.1,598.6 L474.3,603.4 L464.8,602.4 L455.2,601.5 L447.6,598.6Z" fill="#66C2A5"/>
<path d="M473.3,606.2 L481.0,605.3 L484.8,610.0 L481.0,614.8 L475.3,612.9Z" fill="#3288BD"/>
<path d="M476.2,607.7 L481.0,607.2 L482.3,611.0 L478.1,612.3Z" fill="#5E4FA2"/>
<path d="M479.1,619.6 L484.8,618.6 L488.6,627.2 L490.5,636.7 L492.4,646.2 L488.6,649.1 L484.8,640.5 L481.9,631.0Z" fill="#66C2A5"/>
<path d="M482.3,623.4 L485.4,623.0 L487.6,631.0 L488.6,638.6 L485.7,639.6 L483.8,631.9Z" fill="#3288BD"/>
<path d="M451.4,577.6 L462.9,571.9 L478.1,571.0 L487.6,575.7 L485.7,583.4 L478.1,585.3 L474.3,591.0 L462.9,591.0 L453.3,587.2Z" fill="#ABDDA4"/>
<path d="M497.2,556.7 L502.9,547.1 L510.5,545.2 L512.4,554.8 L520.0,562.4 L523.8,573.8 L520.0,575.7 L512.4,566.2 L504.8,560.5Z" fill="#ABDDA4"/>
<path d="M499.1,546.2 L504.8,545.2 L509.6,552.9 L506.7,556.7 L501.9,552.9Z" fill="#3288BD"/>
<path d="M440.0,608.1 L451.4,607.2 L462.9,609.1 L468.6,614.8 L473.3,619.6 L478.1,621.5 L481.0,629.1 L483.8,640.5 L486.7,648.1 L474.3,655.8 L468.6,644.3 L464.8,632.9 L457.1,623.4 L447.6,619.6 L440.0,613.8Z" fill="#FEE08B"/>
<path d="M464.8,533.8 L470.5,533.8 L478.1,543.3 L481.9,553.8 L487.6,561.4 L497.2,568.1 L501.0,575.7 L495.3,579.5 L487.6,575.7 L481.0,568.1 L476.2,560.5 L471.4,551.0 L467.6,541.4Z" fill="#FEE08B"/>
<path d="M523.8,533.8 L539.1,532.9 L543.8,541.4 L542.9,556.7 L539.1,560.5 L529.6,558.6 L524.8,551.0 L521.9,541.4Z" fill="#FEE08B"/>
<path d="M491.4,594.8 L499.1,591.0 L508.6,592.9 L520.0,591.0 L529.6,587.2 L535.3,592.9 L541.0,587.2 L546.7,596.7 L554.3,602.4 L563.9,606.2 L573.4,610.0 L581.0,613.8 L588.6,617.7 L596.2,623.4 L603.9,629.1 L611.5,636.7 L617.2,646.2 L619.1,659.6 L615.3,671.0 L607.7,680.5 L603.9,688.2 L516.2,663.4 L497.2,655.8 L495.3,644.3 L487.6,629.1 L485.7,615.7 L493.4,610.0 L489.5,602.4Z" fill="#FEE08B"/>
<path d="M495.3,596.7 L504.8,594.8 L516.2,595.7 L523.8,598.6 L531.5,593.8 L537.2,600.5 L539.1,606.2 L546.7,606.2 L554.3,608.1 L560.0,602.4 L563.9,606.2 L558.1,613.8 L554.3,619.6 L562.0,625.3 L569.6,623.4 L575.3,619.6 L582.9,617.7 L592.4,621.5 L600.1,627.2 L605.8,634.8 L609.6,644.3 L607.7,653.9 L602.0,659.6 L596.2,663.4 L588.6,667.2 L584.8,672.9 L581.0,680.5 L523.8,659.6 L497.2,653.9 L499.1,644.3 L495.3,632.9 L491.4,621.5 L497.2,613.8 L501.0,606.2Z" fill="#FDAE61"/>
<path d="M545.8,614.8 L558.1,611.9 L563.9,617.7 L562.0,625.3 L552.4,627.2 L544.8,623.4Z" fill="#FEE08B"/>
<path d="M598.2,659.6 L607.7,657.7 L614.4,661.5 L611.5,667.2 L603.9,668.1 L599.1,664.3Z" fill="#FDAE61"/>
<path d="M499.1,599.6 L506.7,600.9 L516.2,599.0 L523.8,602.8 L531.5,597.1 L535.3,606.2 L533.4,613.8 L529.6,621.5 L529.2,636.7 L527.7,644.3 L537.2,644.3 L546.7,642.4 L554.3,644.3 L562.0,642.4 L565.8,632.9 L571.5,625.3 L579.1,621.5 L586.7,621.5 L596.2,627.2 L600.1,636.7 L598.2,646.2 L590.5,652.0 L582.9,653.9 L577.2,657.7 L571.5,663.4 L569.6,671.0 L525.7,656.7 L504.8,652.0 L501.4,642.4 L503.3,632.9 L497.5,623.4 L503.3,615.7 L505.2,608.1Z" fill="#F46D43"/>
<path d="M508.6,606.2 L516.2,604.3 L520.0,610.0 L516.2,619.6 L510.5,625.3 L506.7,617.7Z" fill="#FDAE61"/>
<path d="M468.6,535.7 L472.4,535.7 L478.1,545.2 L480.4,554.8 L485.7,562.0 L493.7,568.1 L491.4,571.0 L483.8,566.2 L477.2,558.6 L474.3,549.1 L470.5,541.4Z" fill="#F46D43"/>
<path d="M484.8,616.7 L488.6,615.7 L495.3,623.4 L501.0,631.0 L501.4,642.4 L498.1,651.0 L492.4,645.3 L489.9,634.8 L487.6,625.3Z" fill="#D53E4F"/>
<path d="M474.9,543.3 L476.6,543.0 L479.6,554.8 L481.5,559.0 L479.6,558.6 L477.2,552.9Z" fill="#D53E4F"/>
<path d="M577.6,639.6 L582.9,640.1 L583.3,645.5 L578.3,644.7Z" fill="#D53E4F"/>
<path d="M579.5,641.5 L581.8,641.7 L581.8,643.9 L579.7,643.8Z" fill="#9E0142"/>
<path d="M586.3,629.1 L590.5,630.6 L588.6,634.0 L586.0,632.5Z" fill="#D53E4F"/>
<path d="M628.6,648.1 L638.2,644.3 L654.4,646.2 L654.4,688.2 L617.2,688.2 L621.0,680.5 L626.7,671.0 L629.6,659.6Z" fill="#ABDDA4"/>
<path d="M642.0,663.4 L649.6,661.5 L652.5,674.8 L645.8,680.5 L641.0,672.9Z" fill="#66C2A5"/>
<path d="M598.2,556.7 L603.9,558.6 L609.6,573.8 L605.8,577.6 L601.0,568.1Z" fill="#66C2A5"/>
<path d="M624.8,585.3 L634.4,583.4 L641.0,591.0 L640.1,596.7 L630.5,594.8Z" fill="#66C2A5"/>
<path d="M546.7,558.6 L554.3,560.5 L562.0,554.8 L569.6,551.0 L577.2,549.1 L584.8,554.8 L592.4,556.7 L596.2,549.1 L598.2,541.4 L603.9,535.7" fill="none" stroke="#ABDDA4" stroke-width="2.2"/>
<path d="M436.7,430.0 L446.7,446.7 L441.7,463.3 L453.3,471.7 L463.3,480.0 L476.7,493.3 L490.0,490.0 L503.3,480.0 L510.0,496.7 L523.3,486.7 L530.0,463.3 L540.0,480.0 L540.0,393.3 L410.0,393.3 L410.0,426.7 L423.3,433.3Z" fill="#5E4FA2"/>
<path d="M411.7,480.0 L423.3,476.7 L436.7,486.7 L450.0,496.7 L463.3,508.3 L476.7,515.0 L470.0,520.0 L456.7,513.3 L443.3,506.7 L430.0,496.7 L416.7,490.0Z" fill="#5E4FA2"/>
<path d="M423.3,451.7 L430.0,446.7 L436.7,455.0 L438.3,468.3 L431.7,473.3 L425.0,465.0Z" fill="#5E4FA2"/>
<path d="M414.0,438.3 L420.7,437.3 L422.7,451.7 L416.0,460.0 L412.7,451.7Z" fill="#5E4FA2"/>
<path d="M483.3,495.0 L493.3,493.3 L498.3,506.7 L490.0,511.7 L485.0,505.0Z" fill="#5E4FA2"/>
<path d="M511.7,500.0 L520.0,493.3 L525.0,505.0 L520.0,511.7 L514.0,508.3Z" fill="#5E4FA2"/>
<path d="M436.7,430.0 L443.3,428.3 L450.0,436.7 L456.7,435.0 L463.3,441.7 L458.3,446.7 L453.3,456.7 L446.7,465.0 L441.7,463.3 L446.7,446.7Z" fill="#3288BD"/>
<path d="M441.7,465.0 L450.0,467.3 L458.3,476.7 L470.0,486.7 L478.3,494.0 L471.7,496.7 L461.7,488.3 L451.7,480.0 L443.3,473.3Z" fill="#3288BD"/>
<path d="M558.3,455.0 L570.0,451.7 L581.7,463.3 L583.3,480.0 L576.7,493.3 L565.0,495.0 L558.3,483.3 L561.7,470.0Z" fill="#5E4FA2"/>
<path d="M546.7,473.3 L555.0,480.0 L556.7,496.7 L550.0,503.3 L545.0,493.3Z" fill="#5E4FA2"/>
<path d="M566.7,433.3 L573.3,430.0 L578.3,441.7 L571.7,446.7Z" fill="#5E4FA2"/>
<path d="M542.3,518.3 L556.7,520.0 L566.7,525.0 L576.7,523.3 L590.0,526.7 L590.0,530.7 L542.3,530.7Z" fill="#66C2A5"/>
<path d="M542.3,522.7 L553.3,523.3 L561.7,527.3 L556.7,530.7 L542.3,530.7Z" fill="#ABDDA4"/>
<path d="M542.3,526.0 L550.0,526.7 L553.3,530.7 L542.3,530.7Z" fill="#E6F598"/>
<path d="M440.0,487.5 L450.0,497.5 L457.5,505.0 L465.0,510.0 L475.0,505.0 L482.5,510.0 L490.0,507.5 L487.5,497.5 L480.0,490.0 L470.0,485.0 L460.0,480.0 L450.0,477.5Z" fill="#5E4FA2"/>
<path d="M493.8,490.0 L502.5,485.0 L507.5,497.5 L510.0,510.0 L502.5,515.0 L496.2,505.0Z" fill="#5E4FA2"/>
<path d="M515.0,497.5 L523.8,490.0 L530.0,485.0 L536.2,492.5 L537.5,510.0 L530.0,515.0 L522.5,510.0 L517.5,515.0Z" fill="#5E4FA2"/>
<path d="M462.5,515.0 L470.0,513.8 L476.2,518.8 L470.0,522.5 L463.8,520.0Z" fill="#5E4FA2"/>
<path d="M421.2,480.0 L430.0,487.5 L440.0,497.5 L450.0,506.2 L446.2,510.0 L436.2,502.5 L426.2,493.8 L418.8,485.0Z" fill="#5E4FA2"/>
<path d="M362.5,447.5 L370.0,448.8 L377.5,460.0 L385.0,467.5 L390.0,480.0 L395.0,490.0 L397.5,500.0 L390.0,505.0 L382.5,497.5 L376.2,497.5 L372.5,505.0 L365.0,500.0 L361.2,490.0 L365.0,480.0 L372.5,475.0 L370.0,465.0 L365.0,457.5Z" fill="#ABDDA4"/>
<path d="M367.5,482.5 L373.8,480.0 L376.2,487.5 L371.2,492.5 L367.0,488.8Z" fill="#66C2A5"/>
<path d="M397.6,579.1 L426.3,580.9 L451.4,579.1 L476.5,582.7 L476.5,600.6 L458.6,598.8 L440.6,595.2 L426.3,593.4 L408.4,595.2 L397.6,591.6Z" fill="#ABDDA4"/>
<path d="M451.4,566.5 L469.3,559.3 L490.9,559.3 L508.8,573.7 L519.6,580.9 L523.1,595.2 L505.2,598.8 L483.7,595.2 L469.3,586.2 L458.6,579.1Z" fill="#E6F598"/>
<path d="M458.6,570.1 L472.9,566.5 L483.7,575.5 L476.5,582.7 L464.0,580.9Z" fill="#ABDDA4"/>
<path d="M490.9,566.5 L505.2,575.5 L514.2,586.2 L505.2,591.6 L494.4,580.9Z" fill="#FEE08B"/>
<path d="M412.0,594.5 L433.5,592.3 L447.8,595.2 L458.6,599.5 L447.8,603.1 L429.9,598.8 L413.7,598.1Z" fill="#66C2A5"/>
<path d="M422.7,591.6 L440.6,590.9 L442.4,594.5 L424.5,595.2Z" fill="#3288BD"/>
<path d="M399.4,598.8 L412.0,599.5 L433.5,602.4 L447.8,606.0 L458.6,613.1 L447.8,616.7 L433.5,609.6 L415.5,607.8 L399.4,606.0Z" fill="#FEE08B"/>
<path d="M604.0,488.7 L606.2,481.9 L615.2,479.7 L619.7,470.7 L617.4,461.7 L624.2,461.7 L628.7,468.5 L635.4,457.3 L633.1,448.3 L637.6,441.6 L652.2,437.1 L652.2,529.0 L586.1,529.0 L586.1,522.3 L597.3,524.5 L604.0,517.8 L597.3,511.1 L601.7,506.6 L608.5,508.8 L604.0,497.6Z" fill="#3288BD"/>
<path d="M628.7,475.2 L637.6,473.0 L642.1,466.2 L652.2,464.0 L652.2,452.8 L642.1,455.0 L637.6,461.7 L630.9,468.5Z" fill="#5E4FA2"/>
<path d="M628.7,506.6 L635.4,504.3 L637.6,515.6 L630.9,517.8Z" fill="#5E4FA2"/>
<path d="M615.2,511.1 L621.9,504.3 L626.4,508.8 L624.2,517.8 L619.7,526.8 L613.0,527.9 L614.1,520.0Z" fill="#66C2A5"/>
<path d="M942.7,737.6 L949.0,742.0 L950.9,746.4 L958.4,745.6 L967.1,741.6 L970.2,745.9 L966.0,751.1 L958.4,758.9 L949.0,763.9 L947.8,756.4 L947.1,745.9Z" fill="#FEE08B"/>
</g></defs>
<g clip-path="url(#us)"><g clip-path="url(#ce)"><g filter="url(#rag)"><use href="#bands"/></g></g><g clip-path="url(#cw)"><g filter="url(#rag2)"><use href="#bands"/></g></g></g>
<path d="M1284.5,866.9 L1289.2,862.9 L1297.3,854.1 L1300.0,855.5 L1293.3,864.2 L1286.5,869.6Z" fill="#D53E4F"/>
<path d="M1262.3,879.3 L1267.7,874.3 L1275.8,873.0 L1276.4,877.7 L1270.4,880.1Z" fill="#9E0142"/>
<path d="M1277.1,876.3 L1283.8,873.9 L1283.6,877.0 L1278.5,877.7Z" fill="#9E0142"/>
<path d="M1237.0,877.7 L1239.4,877.0 L1240.1,879.3 L1237.8,879.7Z" fill="#9E0142"/>
<path d="M1254.2,879.7 L1256.9,878.3 L1257.6,880.4Z" fill="#9E0142"/>
<path d="M398.3,615.0 L406.7,613.3 L420.0,615.3 L418.3,618.7 L406.7,620.0 L399.3,618.0Z" fill="#ABDDA4"/>
<path d="M418.3,635.0 L422.0,635.0 L422.0,640.0 L418.7,639.3Z" fill="#ABDDA4"/>
<path d="M429.3,628.3 L431.3,628.3 L431.3,630.7 L429.3,630.7Z" fill="#E6F598"/>
<path d="M438.3,629.3 L446.7,632.0 L447.3,634.7 L440.0,633.3Z" fill="#E6F598"/>
<path d="M439.3,643.3 L442.7,644.0 L446.0,649.3 L443.3,649.3Z" fill="#E6F598"/>
<path d="M1401.0,561.9 L1404.8,567.6 L1406.3,581.0 L1395.2,587.6 L1385.7,594.3 L1379.0,598.5 L1375.2,594.7 L1382.9,591.4 L1385.3,586.7 L1386.1,579.0 L1392.4,574.3 L1398.1,571.0Z" fill="#66C2A5"/>
<path d="M1402.9,566.7 L1406.3,567.2 L1406.7,572.4 L1403.8,571.8Z" fill="#3288BD"/>
<path d="M1433.8,432.5 L1440.0,430.0 L1455.0,428.8 L1470.0,422.5 L1485.0,417.5 L1475.0,415.5 L1462.5,417.5 L1447.5,422.5 L1440.0,425.0Z" fill="#5E4FA2"/>
<path d="M1097.0,226.2 L1102.5,222.5 L1112.5,218.8 L1115.5,220.0 L1112.5,223.8 L1103.8,227.5 L1098.8,228.8Z" fill="#5E4FA2"/>
<path d="M1060.0,252.5 L1071.2,248.8 L1072.0,253.8 L1067.5,257.5 L1062.5,256.2Z" fill="#5E4FA2"/>
<path d="M1205.0,265.0 L1212.5,264.5 L1213.0,273.0 L1208.8,273.0Z" fill="#5E4FA2"/>
<path d="M1216.2,276.2 L1226.2,277.0 L1226.8,282.5 L1217.5,282.0Z" fill="#5E4FA2"/>
<path d="M1175.0,285.0 L1182.5,283.8 L1183.8,290.0 L1177.5,292.5Z" fill="#5E4FA2"/>
<path d="M1165.0,302.5 L1170.0,301.2 L1171.2,307.5 L1166.2,308.8Z" fill="#5E4FA2"/>
<path d="M1148.8,293.8 L1155.0,291.2 L1152.5,297.5 L1149.5,298.8Z" fill="#5E4FA2"/>
<path d="M1549.9,325.4 L1554.3,319.8 L1558.8,327.6 L1565.6,324.3 L1570.0,325.4 L1583.5,319.8 L1584.6,323.6 L1568.9,332.1 L1562.2,334.3 L1553.2,341.1 L1543.6,338.8Z" fill="#5E4FA2"/>
<path d="M1507.3,374.7 L1514.0,372.5 L1514.4,377.0 L1509.5,378.1Z" fill="#5E4FA2"/>
<path d="M1490.4,412.8 L1493.8,412.4 L1493.8,416.2 L1490.7,416.2Z" fill="#5E4FA2"/>
<g fill="none" stroke="#000" stroke-width="3.1" stroke-linejoin="round" stroke-linecap="round">
<path d="M347.5,195.8 L963.8,195.8 L963.8,185.5 L972.5,185.5 L976.2,202.5 L986.2,204.5 L996.2,208.8 L1007.5,205.0 L1015.0,205.5 L1021.2,210.0 L1027.5,216.2 L1033.8,213.8 L1040.0,217.5 L1047.5,221.2 L1053.8,220.0 L1061.2,217.0 L1065.0,220.0 L1080.0,220.0 L1091.2,223.8 L1080.0,228.8 L1067.5,233.8 L1057.5,240.0 L1047.5,248.8 L1037.5,256.2 L1028.8,261.2 L1040.0,258.0 L1052.5,255.0 L1058.8,256.2 L1060.0,262.5 L1065.0,257.5 L1070.0,260.0 L1073.8,263.8 L1082.5,258.8 L1090.0,255.0 L1097.5,252.5 L1105.0,247.5 L1112.5,242.5 L1120.0,239.5 L1131.2,239.5 L1123.8,245.5 L1116.2,252.5 L1115.0,257.5 L1125.0,253.8 L1132.5,258.8 L1140.0,265.0 L1147.5,266.2 L1155.0,267.0 L1165.0,261.2 L1175.0,260.0 L1192.5,258.8 L1191.2,266.2 L1205.0,267.5 L1208.8,275.0 L1216.2,280.0 L1200.0,281.2 L1195.0,280.0 L1187.5,278.8 L1180.0,277.5 L1170.0,280.0 L1160.0,281.2 L1157.5,287.5 L1152.5,288.8 L1148.0,282.5 L1143.8,290.0 L1140.0,297.5 L1135.0,305.0 L1131.2,310.0 L1126.2,316.2 L1123.8,321.2 L1130.0,317.0 L1136.2,312.0 L1134.5,322.5 L1132.5,332.5 L1130.0,345.0 L1127.5,355.0 L1128.8,365.0 L1130.0,377.5 L1130.5,385.0 L1133.8,395.0 L1138.0,400.0 L1147.5,399.5 L1156.2,393.8 L1161.2,385.0 L1165.0,375.0 L1165.0,365.0 L1161.2,355.0 L1158.8,345.0 L1158.8,335.0 L1162.5,325.0 L1163.8,315.0 L1170.0,308.8 L1176.2,310.0 L1181.2,302.5 L1187.5,295.0 L1192.5,296.2 L1190.0,290.0 L1192.5,285.0 L1200.0,287.5 L1210.0,291.2 L1220.0,296.2 L1227.5,300.0 L1230.0,306.2 L1227.5,310.0 L1230.0,317.5 L1228.8,327.5 L1223.8,332.5 L1216.2,337.5 L1215.0,342.5 L1220.0,347.0 L1225.0,342.5 L1231.2,336.2 L1238.8,333.8 L1243.8,337.5 L1246.2,350.0 L1248.8,363.8 L1246.2,372.5 L1240.0,376.2 L1237.5,382.5 L1232.5,387.5 L1230.0,395.0 L1226.2,398.8 L1225.0,398.0 L1230.0,402.5 L1237.5,406.2 L1247.5,408.0 L1257.5,405.0 L1265.0,403.8 L1275.0,398.8 L1282.5,395.0 L1290.0,392.5 L1265.0,403.8 L1277.5,396.2 L1291.2,392.0 L1302.5,386.2 L1315.0,378.8 L1325.0,372.5 L1317.5,377.5 L1327.5,371.2 L1328.8,366.2 L1325.0,361.2 L1325.0,356.2 L1335.0,353.8 L1350.0,353.8 L1357.5,357.0 L1372.5,355.0 L1380.0,350.0 L1387.5,347.5 L1388.8,340.0 L1386.2,335.0 L1388.8,330.0 L1395.0,325.0 L1400.0,318.8 L1408.8,311.2 L1417.5,307.5 L1452.5,307.5 L1492.5,306.8 L1495.0,300.5 L1502.5,298.8 L1510.0,295.0 L1511.2,291.2 L1516.2,286.2 L1520.0,281.2 L1520.0,273.8 L1523.8,268.8 L1526.2,260.0 L1533.8,251.2 L1540.0,243.8 L1543.8,238.8 L1548.8,239.5 L1550.0,245.0 L1558.8,243.0 L1565.0,240.5 L1570.0,243.0 L1577.5,251.2 L1577.0,270.0 L1576.2,287.5 L1583.8,291.2 L1584.5,300.0 L1591.2,303.8 L1594.5,308.8 L1593.8,313.8 L1588.8,317.5 L1580.0,320.0 L1572.5,323.8 L1565.0,322.0 L1558.8,327.5 L1553.8,321.2 L1550.0,327.5 L1547.5,333.8 L1540.0,337.5 L1532.5,342.5 L1525.0,343.8 L1520.0,348.8 L1515.0,356.2 L1511.2,362.5 L1510.0,368.8 L1510.0,373.8 L1505.0,378.8 L1503.8,383.8 L1508.8,387.5 L1513.8,392.5 L1516.2,398.8 L1522.5,398.8 L1525.5,398.0 L1525.5,393.8 L1522.0,390.0 L1526.2,390.0 L1529.5,395.0 L1528.8,401.2 L1522.5,403.0 L1515.0,404.5 L1507.5,405.5 L1502.5,402.0 L1498.8,404.5 L1488.8,407.5 L1477.5,408.8 L1462.5,411.2 L1450.0,415.0 L1442.5,420.0 L1437.5,432.5 L1438.8,437.5 L1437.5,447.5 L1432.5,458.8 L1425.0,468.8 L1418.8,477.5 L1412.5,468.8 L1407.5,460.0 L1403.8,455.0 L1406.2,461.2 L1408.8,470.0 L1411.2,477.5 L1414.5,483.8 L1414.5,490.0 L1412.5,497.5 L1408.8,503.8 L1402.5,508.8 L1396.2,517.5 L1393.0,528.8 L1395.5,535.0 L1393.8,543.0 L1395.5,542.5 L1398.8,550.0 L1401.2,557.5 L1402.5,565.0 L1397.5,572.5 L1388.8,577.5 L1387.5,588.8 L1381.2,594.5 L1375.0,596.2 L1362.5,601.2 L1356.2,606.2 L1351.2,612.5 L1348.8,618.0 L1341.2,618.0 L1333.8,621.2 L1327.5,626.2 L1321.2,632.5 L1322.5,636.2 L1315.0,642.5 L1305.0,650.0 L1295.0,657.5 L1285.0,667.5 L1278.8,675.0 L1273.8,685.0 L1269.5,697.5 L1270.5,707.5 L1270.0,699.0 L1271.2,707.8 L1273.8,721.5 L1277.5,736.5 L1282.5,751.5 L1286.2,764.0 L1290.0,776.5 L1293.8,786.5 L1297.5,799.0 L1301.2,809.0 L1303.2,819.0 L1302.5,831.5 L1301.2,844.0 L1298.0,849.0 L1297.0,855.2 L1293.8,860.2 L1286.2,862.8 L1280.0,862.0 L1278.8,857.8 L1275.0,850.2 L1271.2,844.0 L1263.8,840.2 L1261.2,831.5 L1258.8,824.0 L1251.2,814.0 L1247.5,806.5 L1245.0,799.0 L1240.0,786.5 L1241.2,779.0 L1243.8,769.0 L1244.5,760.2 L1241.2,752.8 L1233.8,747.8 L1227.5,740.2 L1220.0,730.2 L1213.8,725.2 L1207.5,725.2 L1203.8,729.0 L1192.5,734.0 L1182.5,735.2 L1181.2,729.0 L1176.2,722.8 L1167.5,717.8 L1157.5,715.2 L1142.5,715.2 L1130.0,720.2 L1147.5,713.8 L1140.0,715.8 L1131.2,720.0 L1125.0,720.0 L1127.0,715.0 L1126.2,705.5 L1123.8,705.5 L1121.2,715.0 L1116.2,715.5 L1105.0,715.0 L1092.5,717.5 L1088.8,720.0 L1097.5,723.8 L1097.5,728.8 L1095.0,733.8 L1088.8,740.0 L1090.0,746.2 L1096.2,751.2 L1101.2,750.0 L1100.0,755.0 L1093.8,756.2 L1090.0,747.5 L1085.0,745.0 L1078.8,742.0 L1078.8,747.5 L1075.0,752.5 L1071.2,747.0 L1066.2,747.5 L1062.5,752.5 L1056.2,750.0 L1051.2,745.0 L1045.0,738.8 L1043.8,734.5 L1038.8,733.0 L1031.2,735.0 L1027.5,739.5 L1017.5,738.0 L1007.5,733.0 L992.5,734.5 L989.8,734.1 L983.5,737.3 L977.3,739.6 L971.8,741.2 L974.1,737.3 L974.9,731.8 L967.1,734.9 L967.1,740.4 L969.4,746.7 L964.7,749.8 L961.6,755.3 L955.3,760.8 L949.0,763.9 L942.7,767.8 L937.3,769.4 L939.6,766.3 L940.4,761.6 L934.9,764.7 L931.8,763.1 L930.2,767.1 L927.1,770.2 L927.1,774.1 L922.4,778.0 L917.6,781.2 L919.2,785.9 L916.1,788.2 L910.6,787.5 L913.7,789.8 L916.1,793.7 L913.7,800.0 L909.0,804.7 L905.9,799.2 L910.6,803.1 L912.2,806.3 L911.4,812.5 L914.5,820.4 L916.9,828.2 L918.4,836.1 L919.2,840.8 L913.8,841.2 L905.0,837.5 L896.2,837.5 L886.2,832.0 L876.2,827.5 L873.8,818.8 L868.8,810.0 L867.5,802.5 L866.2,793.8 L861.2,788.8 L855.0,780.0 L850.0,772.5 L845.0,762.5 L841.2,753.8 L836.2,746.2 L828.8,738.8 L823.8,734.5 L812.5,734.5 L803.8,732.0 L797.5,735.0 L793.8,741.2 L791.2,750.0 L787.5,755.0 L783.8,756.2 L776.2,751.2 L767.5,747.5 L760.0,741.2 L753.8,733.8 L751.2,725.0 L748.8,716.2 L743.8,708.8 L732.5,701.2 L722.5,691.2 L715.0,685.0 L708.8,677.5 L672.5,677.5 L672.5,689.5 L653.8,689.5 L608.8,690.0 L525.5,658.0 L526.2,652.0 L473.8,656.2 L471.2,651.2 L470.0,645.0 L466.2,637.5 L460.0,630.0 L451.2,622.5 L446.2,621.2 L442.5,615.0 L430.0,613.0 L426.2,608.8 L420.0,603.8 L400.0,602.0 L395.5,598.8 L395.5,587.5 L392.5,580.0 L387.5,576.2 L381.2,567.5 L375.0,560.0 L391.2,578.8 L383.8,570.0 L376.2,561.2 L368.8,552.5 L366.2,543.8 L369.5,538.8 L368.0,533.0 L361.2,530.0 L355.5,523.8 L353.8,513.8 L352.5,505.0 L343.8,502.5 L343.8,497.5 L338.8,490.0 L331.2,481.2 L326.2,473.8 L325.0,462.5 L323.8,452.5 L317.5,444.5 L312.0,438.8 L312.0,430.0 L316.2,420.0 L318.0,412.5 L317.5,402.5 L315.0,393.8 L312.5,388.8 L311.2,380.0 L313.0,387.5 L311.2,375.0 L308.0,367.5 L312.5,355.0 L316.2,342.5 L318.8,325.0 L320.0,310.0 L322.5,292.5 L321.2,282.5 L321.2,274.5 L319.5,272.5 L319.5,263.8 L323.8,260.5 L319.5,260.0 L318.8,255.0 L325.0,253.0 L318.8,253.0 L316.2,248.8 L313.8,240.0 L310.0,231.2 L305.0,226.2 L303.8,220.0 L305.0,212.5 L315.0,215.0 L325.0,217.5 L337.5,218.0 L345.5,218.8 L346.2,223.8 L348.8,228.8 L342.5,233.8 L338.8,240.0 L340.0,245.5 L343.8,250.0 L348.8,248.8 L353.8,245.0 L357.5,240.0 L357.5,230.0 L360.0,222.5 L355.5,215.0 L355.5,207.5 L353.8,203.0 L348.0,201.2 L347.5,195.8Z"/>
<path d="M321.2,274.5 L327.5,273.0 L333.8,275.0 L340.0,274.5 L345.0,278.8 L347.5,288.8 L357.0,292.5 L367.5,288.0 L377.5,288.0 L383.8,290.5 L395.0,287.0 L400.0,288.5 L417.5,282.0 L427.5,281.2 L432.5,279.5 L450.0,279.5 L476.2,279.5 M475.5,195.8 L475.5,270.0 L477.0,276.2 L478.0,280.0 L482.5,285.0 L488.2,289.5 L485.0,297.5 L481.2,307.5 L476.2,312.5 L472.0,318.8 L470.5,325.0 L473.8,329.5 L478.8,330.8 L477.0,340.0 L475.5,342.5 L475.5,391.2 M313.0,391.2 L608.8,391.2 M497.5,195.8 L497.5,224.5 L503.8,232.5 L505.0,240.0 L513.8,245.5 L520.0,252.5 L526.2,260.5 L536.2,261.2 L533.8,272.5 L531.2,280.0 L533.8,283.8 L530.5,290.0 L536.2,295.5 L543.8,288.0 L548.8,293.8 L551.2,301.2 L556.2,307.5 L558.8,312.5 L563.8,316.2 L567.5,324.5 L577.5,322.0 L581.2,323.0 L583.8,320.0 L593.8,320.5 L598.8,319.5 L602.0,315.0 L607.5,322.0 L608.8,323.8 M608.8,307.8 L765.5,307.8 M608.8,307.8 L608.8,419.5 M608.8,419.5 L810.0,419.5 M765.5,195.8 L765.5,419.5 M408.8,391.8 L408.8,475.8 L527.5,583.8 M542.0,391.8 L542.0,555.0 L538.8,558.8 L533.8,556.2 L527.5,557.5 L527.0,565.0 L528.8,577.5 L528.8,583.8 L527.5,560.0 L528.8,572.5 L530.0,585.0 L533.8,597.5 L540.0,607.5 L533.8,613.8 L531.2,620.0 L531.2,626.2 L527.5,632.5 L527.0,638.8 L532.0,645.0 L531.2,650.0 L526.2,652.5 L525.5,658.0 M542.0,531.2 L977.0,531.2 M653.8,419.5 L653.8,689.5 M810.0,419.5 L810.0,531.2 M810.0,447.5 L960.0,447.5 M765.5,280.7 L931.7,280.7 M765.5,363.3 L888.3,363.3 L901.7,370.7 L916.7,368.3 L930.0,373.3 L936.7,380.0 M918.3,195.7 L920.0,213.3 L925.0,230.0 L928.3,246.7 L930.0,263.3 L933.3,276.7 L931.7,280.7 L926.7,290.0 L936.7,296.7 L936.7,350.0 L931.7,351.7 L935.0,360.0 L931.7,371.7 L936.7,380.0 L943.3,396.7 L948.3,413.3 L951.7,430.0 L956.7,443.3 M936.7,350.0 L1052.0,350.0 M940.0,387.5 L945.0,400.0 L948.8,415.0 L950.0,427.5 L953.8,436.2 L960.0,445.0 L966.2,451.2 L971.2,453.8 L966.2,460.0 L971.2,467.5 L977.0,471.2 L977.0,545.0 M951.2,431.2 L1042.5,430.5 L1047.5,433.8 M976.2,531.2 L976.2,545.0 L980.5,575.0 L980.5,625.0 M976.2,545.5 L1076.2,545.5 L1078.8,551.2 L1071.2,559.5 L1084.5,559.5 M788.0,531.2 L788.0,672.0 M788.0,545.5 L856.2,545.5 L856.2,600.0 L862.5,603.8 L870.0,602.5 L875.0,608.8 L883.8,611.2 L891.2,613.8 L898.8,612.5 L902.5,618.8 L910.0,616.2 L917.5,621.2 L925.0,617.5 L932.5,620.0 L938.8,623.8 L947.5,618.8 L955.0,616.2 L962.5,615.0 L970.0,620.0 L976.2,623.8 L982.5,627.0 L989.2,627.0 L989.2,670.0 L993.8,677.5 L997.5,690.0 L1000.0,700.0 L996.2,712.5 L997.5,722.5 L993.8,732.5 L991.2,735.0 M707.5,677.5 L707.5,672.0 L788.8,672.0 M989.2,642.5 L1052.5,642.5 M1028.8,261.2 L1028.0,276.2 L1020.0,280.0 L1015.0,287.5 L1018.8,296.2 L1017.5,305.0 L1017.5,313.8 L1027.5,320.0 L1036.2,325.0 L1045.0,333.8 L1051.2,340.0 L1052.0,350.0 L1056.2,356.2 L1053.8,363.8 L1057.5,371.2 L1065.0,376.2 L1072.5,383.8 L1076.2,391.2 L1075.0,397.5 L1071.2,403.0 L1076.2,387.5 L1076.2,395.0 L1070.0,402.5 L1057.5,407.5 L1056.2,415.0 L1058.8,420.0 L1053.8,427.5 L1047.5,433.8 L1046.2,442.5 L1048.8,452.5 L1057.5,462.5 L1063.8,468.8 L1065.0,477.5 L1070.0,478.8 L1076.2,480.0 L1075.0,487.5 L1071.2,495.0 L1075.0,500.0 L1082.5,505.0 L1088.8,510.0 L1092.5,517.5 L1091.2,525.0 L1096.2,530.0 L1098.8,536.2 L1097.5,542.5 L1097.5,540.0 L1090.0,545.0 L1088.8,552.5 L1084.5,560.0 L1082.5,568.8 L1077.5,573.8 L1076.2,582.5 L1073.8,587.5 L1067.5,595.0 L1066.2,601.2 L1060.0,608.8 L1056.2,616.2 L1052.5,623.8 L1052.5,631.2 L1055.0,636.2 L1052.5,642.5 L1053.8,650.0 L1056.2,657.5 L1059.5,663.8 L1053.8,667.5 L1055.0,670.0 L1049.5,680.0 L1045.5,690.0 L1043.0,698.8 L1086.2,699.5 L1085.0,707.5 L1088.8,717.5 L1087.5,723.8 M1065.0,377.5 L1128.8,377.5 M1073.8,263.8 L1077.5,270.0 L1095.0,275.0 L1110.0,280.0 L1120.0,282.5 L1126.2,287.5 L1127.5,295.0 L1131.2,298.8 L1133.8,303.8 M1135.0,400.0 L1135.0,466.2 L1132.5,472.5 L1135.0,481.2 L1130.0,490.0 L1125.0,497.5 L1123.8,507.5 M1097.5,542.5 L1100.0,532.5 L1100.0,526.2 L1106.2,525.0 L1113.8,528.8 L1115.0,522.5 L1120.0,517.5 L1123.8,513.8 L1123.8,507.5 L1130.0,506.2 L1137.5,505.0 L1145.0,508.8 L1153.8,506.2 L1160.0,498.8 L1166.2,502.5 L1172.5,497.5 L1177.5,491.2 L1182.5,483.8 L1190.0,481.2 L1195.5,478.8 L1202.5,473.8 L1208.8,478.8 L1215.0,482.5 L1222.5,483.8 L1230.0,485.0 L1237.5,482.5 L1242.5,487.5 L1246.2,492.5 L1252.5,487.5 L1255.0,478.8 L1262.5,473.8 L1267.5,466.2 L1275.0,462.5 L1282.5,455.0 L1287.5,445.0 L1288.8,432.5 L1290.0,427.5 L1288.8,431.2 L1292.0,430.0 M1195.5,398.0 L1195.5,478.8 M1155.0,398.0 L1195.5,398.0 L1195.5,399.5 L1225.0,398.0 M1292.0,392.0 L1292.0,455.0 M1292.0,455.0 L1400.0,455.0 M1246.2,492.5 L1245.0,500.0 L1250.0,510.0 L1255.0,516.2 L1260.0,522.5 L1265.0,523.8 L1275.0,522.5 L1285.0,520.0 L1293.8,518.8 L1298.8,513.8 L1296.2,507.5 L1302.5,500.0 L1307.5,492.5 L1311.2,487.5 L1318.8,490.0 L1323.8,483.8 L1328.8,480.0 L1336.2,472.5 L1340.0,466.2 L1350.0,470.0 L1356.2,468.8 M1260.0,521.2 L1247.5,527.5 L1237.5,535.0 L1227.5,540.0 L1220.0,542.5 M1097.5,543.8 L1123.8,545.0 L1124.5,541.2 L1157.5,541.2 L1220.0,543.0 L1265.0,542.5 L1265.0,544.5 L1395.0,544.5 M1265.0,545.0 L1261.2,551.2 L1253.8,556.2 L1245.0,560.0 L1237.5,566.2 L1227.5,571.2 L1217.5,573.8 L1210.0,578.8 L1206.2,583.8 L1206.2,587.5 M1073.0,587.5 L1230.0,587.5 M1230.0,587.5 L1250.0,582.0 L1278.8,582.5 L1285.0,587.5 L1286.2,593.0 L1311.2,593.0 L1336.2,618.0 M1227.5,595.0 L1233.8,600.0 L1240.0,602.5 L1243.8,611.2 L1251.2,622.5 L1258.8,632.5 L1265.0,640.0 L1271.2,646.2 L1273.8,655.0 L1278.8,662.5 L1280.0,670.0 L1283.8,667.5 M1122.5,587.5 L1114.2,675.0 L1116.2,715.0 M1178.0,587.5 L1186.2,632.5 L1190.0,669.0 L1189.2,690.2 L1191.2,699.5 L1193.8,707.8 L1255.0,712.8 L1255.8,717.8 L1258.0,706.5 L1261.2,704.8 L1270.0,707.8 M1191.2,699.5 L1132.5,699.5 L1137.5,709.0 L1136.2,715.2 M1315.0,455.0 L1315.0,469.5 L1322.5,464.5 L1331.2,458.0 L1340.0,457.5 L1345.0,463.8 L1350.0,468.0 L1356.2,468.8 L1362.5,472.5 L1370.0,477.5 L1370.0,483.8 L1363.8,490.0 L1365.0,495.0 L1372.5,492.5 L1380.0,497.5 L1385.0,500.0 M1400.0,455.0 L1399.5,490.0 L1413.8,490.0 M1308.8,385.0 L1308.8,392.0 L1407.5,392.0 L1412.5,397.5 L1415.0,405.0 L1420.0,409.5 L1415.0,416.2 L1412.5,422.5 L1411.2,430.0 L1415.0,435.0 L1421.2,443.8 L1415.0,448.8 L1407.5,452.5 L1402.5,454.5 M1420.0,409.5 L1440.0,418.8 M1452.5,307.5 L1451.2,320.0 L1452.5,327.5 L1450.0,337.5 L1452.5,347.5 L1453.8,355.0 L1454.2,370.0 L1450.0,391.2 L1447.5,415.0 L1442.5,420.0 M1492.5,306.8 L1492.0,315.0 L1490.0,322.5 L1482.5,327.5 L1481.2,335.0 L1476.2,345.0 L1473.8,352.5 L1472.5,362.5 L1470.0,370.0 M1502.5,298.8 L1503.8,320.0 L1505.0,340.0 L1506.2,352.5 L1510.0,362.5 M1454.2,370.0 L1470.0,370.0 L1497.5,371.2 L1502.5,368.8 L1507.5,366.2 M1450.0,391.2 L1488.8,391.2 L1497.5,390.5 L1498.8,398.8 L1502.5,401.2 M1488.8,391.2 L1488.8,407.5 M1433.8,432.5 L1440.0,430.0 L1455.0,428.8 L1470.0,422.5 L1485.0,417.5 L1475.0,415.5 L1462.5,417.5 L1447.5,422.5 L1440.0,425.0 L1433.8,432.5"/>
<path stroke-width="4" d="M963.8,195.8 L963.8,185.5 L972.5,185.5 L976.2,202.5 L986.2,204.5 L996.2,208.8 L1007.5,205.0 L1015.0,205.5 L1021.2,210.0 L1027.5,216.2 L1033.8,213.8 L1040.0,217.5 L1047.5,221.2 L1053.8,220.0 L1061.2,217.0 L1065.0,220.0 L1080.0,220.0 L1091.2,223.8 L1080.0,228.8 L1067.5,233.8 L1057.5,240.0 L1047.5,248.8 L1037.5,256.2 L1028.8,261.2 L1040.0,258.0 L1052.5,255.0 L1058.8,256.2 L1060.0,262.5 L1065.0,257.5 L1070.0,260.0 L1073.8,263.8 L1082.5,258.8 L1090.0,255.0 L1097.5,252.5 L1105.0,247.5 L1112.5,242.5 L1120.0,239.5 L1131.2,239.5 L1123.8,245.5 L1116.2,252.5 L1115.0,257.5 L1125.0,253.8 L1132.5,258.8 L1140.0,265.0 L1147.5,266.2 L1155.0,267.0 L1165.0,261.2 L1175.0,260.0 L1192.5,258.8 L1191.2,266.2 L1205.0,267.5 L1208.8,275.0 L1216.2,280.0 L1200.0,281.2 L1195.0,280.0 L1187.5,278.8 L1180.0,277.5 L1170.0,280.0 L1160.0,281.2 L1157.5,287.5 L1152.5,288.8 L1148.0,282.5 L1143.8,290.0 L1140.0,297.5 L1135.0,305.0 L1131.2,310.0 L1126.2,316.2 L1123.8,321.2 L1130.0,317.0 L1136.2,312.0 L1134.5,322.5 L1132.5,332.5 L1130.0,345.0 L1127.5,355.0 L1128.8,365.0 L1130.0,377.5 L1130.5,385.0 L1133.8,395.0 L1138.0,400.0 L1147.5,399.5 L1156.2,393.8 L1161.2,385.0 L1165.0,375.0 L1165.0,365.0 L1161.2,355.0 L1158.8,345.0 L1158.8,335.0 L1162.5,325.0 L1163.8,315.0 L1170.0,308.8 L1176.2,310.0 L1181.2,302.5 L1187.5,295.0 L1192.5,296.2 L1190.0,290.0 L1192.5,285.0 L1200.0,287.5 L1210.0,291.2 L1220.0,296.2 L1227.5,300.0 L1230.0,306.2 L1227.5,310.0 L1230.0,317.5 L1228.8,327.5 L1223.8,332.5 L1216.2,337.5 L1215.0,342.5 L1220.0,347.0 L1225.0,342.5 L1231.2,336.2 L1238.8,333.8 L1243.8,337.5 L1246.2,350.0 L1248.8,363.8 L1246.2,372.5 L1240.0,376.2 L1237.5,382.5 L1232.5,387.5 L1230.0,395.0 L1226.2,398.8 L1225.0,398.0 L1230.0,402.5 L1237.5,406.2 L1247.5,408.0 L1257.5,405.0 L1265.0,403.8 L1275.0,398.8 L1282.5,395.0 L1290.0,392.5 M1265.0,403.8 L1277.5,396.2 L1291.2,392.0 L1302.5,386.2 L1315.0,378.8 L1325.0,372.5 L1317.5,377.5 L1327.5,371.2 L1328.8,366.2 L1325.0,361.2 L1325.0,356.2 L1335.0,353.8 L1350.0,353.8 L1357.5,357.0 L1372.5,355.0 L1380.0,350.0 L1387.5,347.5 L1388.8,340.0 L1386.2,335.0 L1388.8,330.0 L1395.0,325.0 L1400.0,318.8 L1408.8,311.2 L1417.5,307.5 M1492.5,306.8 L1495.0,300.5 L1502.5,298.8 L1510.0,295.0 L1511.2,291.2 L1516.2,286.2 L1520.0,281.2 L1520.0,273.8 L1523.8,268.8 L1526.2,260.0 L1533.8,251.2 L1540.0,243.8 L1543.8,238.8 L1548.8,239.5 L1550.0,245.0 L1558.8,243.0 L1565.0,240.5 L1570.0,243.0 L1577.5,251.2 L1577.0,270.0 L1576.2,287.5 L1583.8,291.2 L1584.5,300.0 L1591.2,303.8 L1594.5,308.8 L1593.8,313.8 L1588.8,317.5 L1580.0,320.0 L1572.5,323.8 L1565.0,322.0 L1558.8,327.5 L1553.8,321.2 L1550.0,327.5 L1547.5,333.8 L1540.0,337.5 L1532.5,342.5 L1525.0,343.8 L1520.0,348.8 L1515.0,356.2 L1511.2,362.5 L1510.0,368.8 L1510.0,373.8 L1505.0,378.8 L1503.8,383.8 L1508.8,387.5 L1513.8,392.5 L1516.2,398.8 L1522.5,398.8 L1525.5,398.0 L1525.5,393.8 L1522.0,390.0 L1526.2,390.0 L1529.5,395.0 L1528.8,401.2 L1522.5,403.0 L1515.0,404.5 L1507.5,405.5 L1502.5,402.0 L1498.8,404.5 L1488.8,407.5 L1477.5,408.8 L1462.5,411.2 L1450.0,415.0 L1442.5,420.0 L1437.5,432.5 L1438.8,437.5 L1437.5,447.5 L1432.5,458.8 L1425.0,468.8 L1418.8,477.5 L1412.5,468.8 L1407.5,460.0 L1403.8,455.0 L1406.2,461.2 L1408.8,470.0 L1411.2,477.5 L1414.5,483.8 L1414.5,490.0 L1412.5,497.5 L1408.8,503.8 L1402.5,508.8 L1396.2,517.5 L1393.0,528.8 L1395.5,535.0 L1393.8,543.0 L1395.5,542.5 L1398.8,550.0 L1401.2,557.5 L1402.5,565.0 L1397.5,572.5 L1388.8,577.5 L1387.5,588.8 L1381.2,594.5 L1375.0,596.2 L1362.5,601.2 L1356.2,606.2 L1351.2,612.5 L1348.8,618.0 L1341.2,618.0 L1333.8,621.2 L1327.5,626.2 L1321.2,632.5 L1322.5,636.2 L1315.0,642.5 L1305.0,650.0 L1295.0,657.5 L1285.0,667.5 L1278.8,675.0 L1273.8,685.0 L1269.5,697.5 L1270.5,707.5 L1270.0,699.0 L1271.2,707.8 L1273.8,721.5 L1277.5,736.5 L1282.5,751.5 L1286.2,764.0 L1290.0,776.5 L1293.8,786.5 L1297.5,799.0 L1301.2,809.0 L1303.2,819.0 L1302.5,831.5 L1301.2,844.0 L1298.0,849.0 L1297.0,855.2 L1293.8,860.2 L1286.2,862.8 L1280.0,862.0 L1278.8,857.8 L1275.0,850.2 L1271.2,844.0 L1263.8,840.2 L1261.2,831.5 L1258.8,824.0 L1251.2,814.0 L1247.5,806.5 L1245.0,799.0 L1240.0,786.5 L1241.2,779.0 L1243.8,769.0 L1244.5,760.2 L1241.2,752.8 L1233.8,747.8 L1227.5,740.2 L1220.0,730.2 L1213.8,725.2 L1207.5,725.2 L1203.8,729.0 L1192.5,734.0 L1182.5,735.2 L1181.2,729.0 L1176.2,722.8 L1167.5,717.8 L1157.5,715.2 L1142.5,715.2 L1130.0,720.2 L1147.5,713.8 L1140.0,715.8 L1131.2,720.0 L1125.0,720.0 L1127.0,715.0 L1126.2,705.5 L1123.8,705.5 L1121.2,715.0 L1116.2,715.5 L1105.0,715.0 L1092.5,717.5 L1088.8,720.0 L1097.5,723.8 L1097.5,728.8 L1095.0,733.8 L1088.8,740.0 L1090.0,746.2 L1096.2,751.2 L1101.2,750.0 L1100.0,755.0 L1093.8,756.2 L1090.0,747.5 L1085.0,745.0 L1078.8,742.0 L1078.8,747.5 L1075.0,752.5 L1071.2,747.0 L1066.2,747.5 L1062.5,752.5 L1056.2,750.0 L1051.2,745.0 L1045.0,738.8 L1043.8,734.5 L1038.8,733.0 L1031.2,735.0 L1027.5,739.5 L1017.5,738.0 L1007.5,733.0 L992.5,734.5 L989.8,734.1 L983.5,737.3 L977.3,739.6 L971.8,741.2 L974.1,737.3 L974.9,731.8 L967.1,734.9 L967.1,740.4 L969.4,746.7 L964.7,749.8 L961.6,755.3 L955.3,760.8 L949.0,763.9 L942.7,767.8 L937.3,769.4 L939.6,766.3 L940.4,761.6 L934.9,764.7 L931.8,763.1 L930.2,767.1 L927.1,770.2 L927.1,774.1 L922.4,778.0 L917.6,781.2 L919.2,785.9 L916.1,788.2 L910.6,787.5 L913.7,789.8 L916.1,793.7 L913.7,800.0 L909.0,804.7 L905.9,799.2 L910.6,803.1 L912.2,806.3 L911.4,812.5 L914.5,820.4 L916.9,828.2 L918.4,836.1 L919.2,840.8 L913.8,841.2 L905.0,837.5 L896.2,837.5 L886.2,832.0 L876.2,827.5 L873.8,818.8 L868.8,810.0 L867.5,802.5 L866.2,793.8 L861.2,788.8 L855.0,780.0 L850.0,772.5 L845.0,762.5 L841.2,753.8 L836.2,746.2 L828.8,738.8 L823.8,734.5 L812.5,734.5 L803.8,732.0 L797.5,735.0 L793.8,741.2 L791.2,750.0 L787.5,755.0 L783.8,756.2 L776.2,751.2 L767.5,747.5 L760.0,741.2 L753.8,733.8 L751.2,725.0 L748.8,716.2 L743.8,708.8 L732.5,701.2 L722.5,691.2 L715.0,685.0 L708.8,677.5 M672.5,677.5 L672.5,689.5 L653.8,689.5 M473.8,656.2 L471.2,651.2 L470.0,645.0 L466.2,637.5 L460.0,630.0 L451.2,622.5 L446.2,621.2 L442.5,615.0 L430.0,613.0 L426.2,608.8 L420.0,603.8 L400.0,602.0 L395.5,598.8 L395.5,587.5 L392.5,580.0 L387.5,576.2 L381.2,567.5 L375.0,560.0 M391.2,578.8 L383.8,570.0 L376.2,561.2 L368.8,552.5 L366.2,543.8 L369.5,538.8 L368.0,533.0 L361.2,530.0 L355.5,523.8 L353.8,513.8 L352.5,505.0 L343.8,502.5 L343.8,497.5 L338.8,490.0 L331.2,481.2 L326.2,473.8 L325.0,462.5 L323.8,452.5 L317.5,444.5 L312.0,438.8 L312.0,430.0 L316.2,420.0 L318.0,412.5 L317.5,402.5 L315.0,393.8 L312.5,388.8 L311.2,380.0 L313.0,387.5 L311.2,375.0 L308.0,367.5 L312.5,355.0 L316.2,342.5 L318.8,325.0 L320.0,310.0 L322.5,292.5 L321.2,282.5 L321.2,274.5 L319.5,272.5 L319.5,263.8 L323.8,260.5 L319.5,260.0 L318.8,255.0 L325.0,253.0 L318.8,253.0 L316.2,248.8 L313.8,240.0 L310.0,231.2 L305.0,226.2 L303.8,220.0 L305.0,212.5 L315.0,215.0 L325.0,217.5 L337.5,218.0 L345.5,218.8 L346.2,223.8 L348.8,228.8 L342.5,233.8 L338.8,240.0 L340.0,245.5 L343.8,250.0 L348.8,248.8 L353.8,245.0 L357.5,240.0 L357.5,230.0 L360.0,222.5 L355.5,215.0 L355.5,207.5 L353.8,203.0 L348.0,201.2 L347.5,195.8 L347.5,195.8 M321.2,274.5 L327.5,273.0 L333.8,275.0 L340.0,274.5 L345.0,278.8 L347.5,288.8 L357.0,292.5 L367.5,288.0 L377.5,288.0 L383.8,290.5 L395.0,287.0 L400.0,288.5 L417.5,282.0 L427.5,281.2 L432.5,279.5 L450.0,279.5 M475.5,270.0 L477.0,276.2 L478.0,280.0 L482.5,285.0 L488.2,289.5 L485.0,297.5 L481.2,307.5 L476.2,312.5 L472.0,318.8 L470.5,325.0 L473.8,329.5 L478.8,330.8 L477.0,340.0 L475.5,342.5 M497.5,224.5 L503.8,232.5 L505.0,240.0 L513.8,245.5 L520.0,252.5 L526.2,260.5 L536.2,261.2 L533.8,272.5 L531.2,280.0 L533.8,283.8 L530.5,290.0 L536.2,295.5 L543.8,288.0 L548.8,293.8 L551.2,301.2 L556.2,307.5 L558.8,312.5 L563.8,316.2 L567.5,324.5 L577.5,322.0 L581.2,323.0 L583.8,320.0 L593.8,320.5 L598.8,319.5 L602.0,315.0 L607.5,322.0 L608.8,323.8 M542.0,555.0 L538.8,558.8 L533.8,556.2 L527.5,557.5 L527.0,565.0 L528.8,577.5 L528.8,583.8 L527.5,560.0 L528.8,572.5 L530.0,585.0 L533.8,597.5 L540.0,607.5 L533.8,613.8 L531.2,620.0 L531.2,626.2 L527.5,632.5 L527.0,638.8 L532.0,645.0 L531.2,650.0 L526.2,652.5 L525.5,658.0 M888.3,363.3 L901.7,370.7 L916.7,368.3 L930.0,373.3 L936.7,380.0 M918.3,195.7 L920.0,213.3 L925.0,230.0 L928.3,246.7 L930.0,263.3 L933.3,276.7 L931.7,280.7 L926.7,290.0 L936.7,296.7 M936.7,350.0 L931.7,351.7 L935.0,360.0 L931.7,371.7 L936.7,380.0 L943.3,396.7 L948.3,413.3 L951.7,430.0 L956.7,443.3 M940.0,387.5 L945.0,400.0 L948.8,415.0 L950.0,427.5 L953.8,436.2 L960.0,445.0 L966.2,451.2 L971.2,453.8 L966.2,460.0 L971.2,467.5 L977.0,471.2 M1076.2,545.5 L1078.8,551.2 L1071.2,559.5 L1084.5,559.5 M856.2,600.0 L862.5,603.8 L870.0,602.5 L875.0,608.8 L883.8,611.2 L891.2,613.8 L898.8,612.5 L902.5,618.8 L910.0,616.2 L917.5,621.2 L925.0,617.5 L932.5,620.0 L938.8,623.8 L947.5,618.8 L955.0,616.2 L962.5,615.0 L970.0,620.0 L976.2,623.8 L982.5,627.0 L989.2,627.0 M989.2,670.0 L993.8,677.5 L997.5,690.0 L1000.0,700.0 L996.2,712.5 L997.5,722.5 L993.8,732.5 L991.2,735.0 M1028.8,261.2 L1028.0,276.2 L1020.0,280.0 L1015.0,287.5 L1018.8,296.2 L1017.5,305.0 L1017.5,313.8 L1027.5,320.0 L1036.2,325.0 L1045.0,333.8 L1051.2,340.0 L1052.0,350.0 L1056.2,356.2 L1053.8,363.8 L1057.5,371.2 L1065.0,376.2 L1072.5,383.8 L1076.2,391.2 L1075.0,397.5 L1071.2,403.0 L1076.2,387.5 L1076.2,395.0 L1070.0,402.5 L1057.5,407.5 L1056.2,415.0 L1058.8,420.0 L1053.8,427.5 L1047.5,433.8 L1046.2,442.5 L1048.8,452.5 L1057.5,462.5 L1063.8,468.8 L1065.0,477.5 L1070.0,478.8 L1076.2,480.0 L1075.0,487.5 L1071.2,495.0 L1075.0,500.0 L1082.5,505.0 L1088.8,510.0 L1092.5,517.5 L1091.2,525.0 L1096.2,530.0 L1098.8,536.2 L1097.5,542.5 L1097.5,540.0 L1090.0,545.0 L1088.8,552.5 L1084.5,560.0 L1082.5,568.8 L1077.5,573.8 L1076.2,582.5 L1073.8,587.5 L1067.5,595.0 L1066.2,601.2 L1060.0,608.8 L1056.2,616.2 L1052.5,623.8 L1052.5,631.2 L1055.0,636.2 L1052.5,642.5 L1053.8,650.0 L1056.2,657.5 L1059.5,663.8 L1053.8,667.5 L1055.0,670.0 L1049.5,680.0 L1045.5,690.0 L1043.0,698.8 M1086.2,699.5 L1085.0,707.5 L1088.8,717.5 L1087.5,723.8 M1073.8,263.8 L1077.5,270.0 L1095.0,275.0 L1110.0,280.0 L1120.0,282.5 L1126.2,287.5 L1127.5,295.0 L1131.2,298.8 L1133.8,303.8 M1135.0,466.2 L1132.5,472.5 L1135.0,481.2 L1130.0,490.0 L1125.0,497.5 L1123.8,507.5 M1097.5,542.5 L1100.0,532.5 L1100.0,526.2 L1106.2,525.0 L1113.8,528.8 L1115.0,522.5 L1120.0,517.5 L1123.8,513.8 L1123.8,507.5 L1130.0,506.2 L1137.5,505.0 L1145.0,508.8 L1153.8,506.2 L1160.0,498.8 L1166.2,502.5 L1172.5,497.5 L1177.5,491.2 L1182.5,483.8 L1190.0,481.2 L1195.5,478.8 L1202.5,473.8 L1208.8,478.8 L1215.0,482.5 L1222.5,483.8 L1230.0,485.0 L1237.5,482.5 L1242.5,487.5 L1246.2,492.5 L1252.5,487.5 L1255.0,478.8 L1262.5,473.8 L1267.5,466.2 L1275.0,462.5 L1282.5,455.0 L1287.5,445.0 L1288.8,432.5 L1290.0,427.5 L1288.8,431.2 L1292.0,430.0 M1246.2,492.5 L1245.0,500.0 L1250.0,510.0 L1255.0,516.2 L1260.0,522.5 L1265.0,523.8 L1275.0,522.5 L1285.0,520.0 L1293.8,518.8 L1298.8,513.8 L1296.2,507.5 L1302.5,500.0 L1307.5,492.5 L1311.2,487.5 L1318.8,490.0 L1323.8,483.8 L1328.8,480.0 L1336.2,472.5 L1340.0,466.2 L1350.0,470.0 L1356.2,468.8 M1260.0,521.2 L1247.5,527.5 L1237.5,535.0 L1227.5,540.0 L1220.0,542.5 M1265.0,545.0 L1261.2,551.2 L1253.8,556.2 L1245.0,560.0 L1237.5,566.2 L1227.5,571.2 L1217.5,573.8 L1210.0,578.8 L1206.2,583.8 L1206.2,587.5 M1278.8,582.5 L1285.0,587.5 L1286.2,593.0 M1227.5,595.0 L1233.8,600.0 L1240.0,602.5 L1243.8,611.2 L1251.2,622.5 L1258.8,632.5 L1265.0,640.0 L1271.2,646.2 L1273.8,655.0 L1278.8,662.5 L1280.0,670.0 L1283.8,667.5 M1190.0,669.0 L1189.2,690.2 L1191.2,699.5 L1193.8,707.8 M1255.0,712.8 L1255.8,717.8 L1258.0,706.5 L1261.2,704.8 L1270.0,707.8 M1132.5,699.5 L1137.5,709.0 L1136.2,715.2 M1315.0,455.0 L1315.0,469.5 L1322.5,464.5 L1331.2,458.0 L1340.0,457.5 L1345.0,463.8 L1350.0,468.0 L1356.2,468.8 L1362.5,472.5 L1370.0,477.5 L1370.0,483.8 L1363.8,490.0 L1365.0,495.0 L1372.5,492.5 L1380.0,497.5 L1385.0,500.0 M1407.5,392.0 L1412.5,397.5 L1415.0,405.0 L1420.0,409.5 L1415.0,416.2 L1412.5,422.5 L1411.2,430.0 L1415.0,435.0 L1421.2,443.8 L1415.0,448.8 L1407.5,452.5 L1402.5,454.5 M1452.5,307.5 L1451.2,320.0 L1452.5,327.5 L1450.0,337.5 L1452.5,347.5 L1453.8,355.0 L1454.2,370.0 L1450.0,391.2 L1447.5,415.0 L1442.5,420.0 M1492.5,306.8 L1492.0,315.0 L1490.0,322.5 L1482.5,327.5 L1481.2,335.0 L1476.2,345.0 L1473.8,352.5 L1472.5,362.5 L1470.0,370.0 M1502.5,298.8 L1503.8,320.0 L1505.0,340.0 L1506.2,352.5 L1510.0,362.5 M1497.5,371.2 L1502.5,368.8 L1507.5,366.2 M1488.8,391.2 L1497.5,390.5 L1498.8,398.8 L1502.5,401.2 M1433.8,432.5 L1440.0,430.0 L1455.0,428.8 L1470.0,422.5 L1485.0,417.5 L1475.0,415.5 L1462.5,417.5 L1447.5,422.5 L1440.0,425.0 L1433.8,432.5"/>
<path stroke-width="3.4" d="M1340.0,466.7 L1347.6,464.8 L1351.4,458.1 L1354.3,461.0 L1355.2,466.7 L1361.0,470.5 L1368.6,474.3 L1372.4,480.0 L1366.7,484.8 L1363.8,490.5 L1366.7,494.3 L1371.4,491.4 L1378.1,497.1 L1383.8,502.9"/>
<path stroke-width="4.2" d="M1383.8,502.9 L1381.0,493.3 L1380.0,483.8 L1381.0,476.2 L1380.0,468.6 L1384.8,466.7 L1388.6,462.9 L1393.3,459.0 L1390.5,466.7 L1387.6,474.3 L1388.6,481.9 L1390.5,489.5 L1394.3,495.2 L1397.1,501.0 L1401.0,502.9 L1399.0,508.6 L1395.2,516.2 L1393.3,523.8 L1394.3,528.6"/>
<path stroke-width="4.2" d="M1383.8,502.9 L1376.2,501.0 L1372.4,503.8 L1381.0,510.5 L1385.7,513.3 L1378.1,515.2 L1374.3,518.1 L1381.0,521.0 L1384.8,524.8 L1376.2,523.8 L1372.4,524.8 L1378.1,528.6 L1382.9,531.4 L1381.0,534.3 L1385.7,533.3 L1393.3,531.4"/>
<path stroke-width="3.4" d="M1394.3,528.6 L1397.1,521.9 L1401.0,514.3 L1405.7,506.7 L1410.5,501.0 L1413.3,493.3 L1414.3,485.7 L1411.4,480.0 L1406.7,474.3 L1403.8,466.7 L1401.0,459.0 L1403.8,451.4"/>
<path stroke-width="4.5" d="M1384.8,478.1 L1385.7,485.7 L1387.6,491.4"/>
<path stroke-width="3.6" d="M1376.2,550.5 L1377.1,561.9 L1386.7,561.0 L1383.8,554.3 L1390.5,552.4 L1395.2,558.1 L1391.4,563.8 L1397.1,564.8 L1393.3,569.5 L1388.6,568.6"/>
<path stroke-width="3.6" d="M1370.5,574.3 L1377.1,573.3 L1381.0,571.4 L1385.7,573.3 L1390.5,576.2 L1385.7,578.1 L1378.1,578.1 L1381.0,581.9 L1376.2,584.8 L1368.6,584.8 L1374.3,588.6 L1381.9,590.5 L1385.7,587.6"/>
<path stroke-width="3.6" d="M1360.0,599.0 L1362.9,595.2 L1368.6,594.3"/>
<path stroke-width="3.2" d="M1070.0,721.2 L1076.2,716.2 L1082.5,718.8 L1088.8,720.0 L1090.0,725.0 L1083.8,726.2 L1072.5,723.8 L1070.0,721.2"/>
<path stroke-width="4.5" d="M1443.7,421.7 L1455.3,420.5 L1467.4,419.5 L1476.5,415.3 L1484.6,416.5"/>
<path stroke-width="4.5" d="M1495.1,399.8 L1498.2,402.9 L1500.7,401.9 L1503.7,404.4"/>
<path stroke-width="5" d="M1509.3,409.9 L1513.8,407.4 L1517.3,408.9 L1518.3,404.9"/>
<path fill="#000" stroke-width="1.5" d="M346.5,196.2 L349.9,198.4 L354.4,201.8 L356.6,207.4 L357.7,214.1 L361.7,223.1 L358.9,229.8 L359.4,241.0 L355.5,245.5 L351.0,250.0 L344.3,251.7 L340.4,247.7 L338.7,241.0 L340.9,234.3 L345.4,228.7 L347.7,223.1 L344.3,222.0 L346.5,217.5 L347.7,213.0 L343.2,211.9 L339.3,210.2 L338.1,206.3 L340.9,203.5 L345.4,204.0 L347.7,200.7Z"/>
<path fill="#000" stroke-width="1.5" d="M316.3,248.9 L325.3,251.7 L321.9,255.6 L324.7,258.9 L323.6,265.7 L320.2,269.0 L317.4,267.9 L317.4,257.8Z"/>
<path fill="#000" stroke-width="1.5" d="M352.0,498.8 L355.1,497.3 L359.0,498.4 L362.2,500.4 L362.5,502.7 L360.2,503.5 L358.6,503.5 L359.4,508.2 L361.4,511.4 L363.7,515.3 L366.5,517.3 L366.1,519.6 L363.7,520.4 L361.0,518.4 L357.5,516.5 L355.1,516.9 L352.7,514.5 L352.0,509.8 L352.4,505.1 L351.6,502.0Z"/>
<path fill="#000" stroke-width="1.5" d="M1238.8,782.8 L1243.8,781.0 L1250.0,784.0 L1252.5,789.0 L1248.8,794.0 L1243.8,792.8 L1240.0,789.0Z"/>
<path fill="#000" stroke-width="1.5" d="M1251.2,811.5 L1257.5,811.0 L1259.5,816.5 L1256.2,820.2 L1252.5,818.5Z"/>
<path fill="#000" stroke-width="1.5" d="M1276.2,857.8 L1282.5,857.0 L1284.5,862.0 L1280.0,865.2 L1276.2,862.8Z"/>
<path fill="#000" stroke-width="1.5" d="M1177.5,302.5 L1182.5,301.2 L1184.5,310.0 L1181.2,315.0 L1177.0,312.5Z"/>
<path fill="#000" stroke-width="1.5" d="M1143.8,290.0 L1148.8,287.5 L1150.0,293.8 L1146.2,302.5 L1142.5,305.0 L1140.0,300.0Z"/>
<path fill="#000" stroke-width="1.5" d="M1522.4,409.9 L1525.9,408.2 L1529.4,409.9 L1529.9,413.0 L1526.4,414.7 L1522.9,413.5Z"/>
<path fill="#000" stroke-width="1.5" d="M1430.1,430.6 L1436.1,426.6 L1443.2,421.5 L1445.2,424.6 L1440.2,430.6 L1435.1,434.6 L1431.1,434.1Z"/>
</g>
<rect x="1639" y="422.0" width="25" height="25.6" fill="#5E4FA2"/>
<rect x="1639" y="447.5" width="25" height="25.6" fill="#3288BD"/>
<rect x="1639" y="473.0" width="25" height="25.6" fill="#66C2A5"/>
<rect x="1639" y="498.5" width="25" height="25.6" fill="#ABDDA4"/>
<rect x="1639" y="524.0" width="25" height="25.6" fill="#E6F598"/>
<rect x="1639" y="549.5" width="25" height="25.6" fill="#FEE08B"/>
<rect x="1639" y="575.0" width="25" height="25.6" fill="#FDAE61"/>
<rect x="1639" y="600.5" width="25" height="25.6" fill="#F46D43"/>
<rect x="1639" y="626.0" width="25" height="25.6" fill="#D53E4F"/>
<rect x="1639" y="651.5" width="25" height="25.6" fill="#9E0142"/>
</svg>
<div class="t" id="title">Spodoptera littoralis: Degree day (DD) accumulation 04/16/2026</div>
<div class="t" id="sub">Maps and modeling 04/16/2026 by Oregon State University IPPC USPEST.ORG and<br>USDA-APHIS-PPQ; climate data from OSU PRISM Climate Group</div>
<div class="t" id="lt">Degree Days</div>
<div class="t lab" style="top:422.0px">0-117</div>
<div class="t lab" style="top:447.5px">117-234</div>
<div class="t lab" style="top:473.0px">234-351</div>
<div class="t lab" style="top:498.5px">351-468</div>
<div class="t lab" style="top:524.0px">468-585</div>
<div class="t lab" style="top:549.5px">585-702</div>
<div class="t lab" style="top:575.0px">702-819</div>
<div class="t lab" style="top:600.5px">819-936</div>
<div class="t lab" style="top:626.0px">936-1050</div>
<div class="t lab" style="top:651.5px">1050-1170</div>
</body></html>
